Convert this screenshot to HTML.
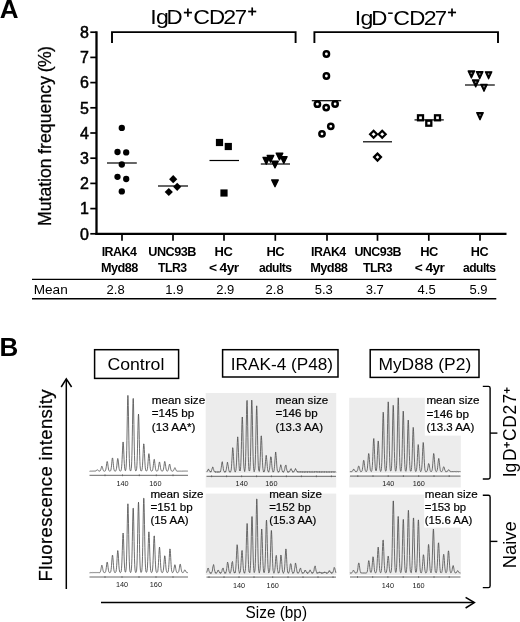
<!DOCTYPE html>
<html>
<head>
<meta charset="utf-8">
<title>Figure</title>
<style>
html, body { margin: 0; padding: 0; background: #ffffff; }
body { width: 520px; height: 622px; overflow: hidden; }
svg { display: block; will-change: transform; font-family: "Liberation Sans", sans-serif; }
text { font-family: "Liberation Sans", sans-serif; }
</style>
</head>
<body>
<svg width="520" height="622" viewBox="0 0 520 622">
<rect x="0" y="0" width="520" height="622" fill="#ffffff"/>
<text x="-0.30" y="17.60" font-size="26" font-weight="bold" text-anchor="start" fill="#000" >A</text>
<line x1="96.50" y1="31.30" x2="96.50" y2="234.90" stroke="#000" stroke-width="2.3" stroke-linecap="butt"/>
<line x1="95.40" y1="233.80" x2="506.50" y2="233.80" stroke="#000" stroke-width="2.2" stroke-linecap="butt"/>
<line x1="90.30" y1="233.80" x2="96.50" y2="233.80" stroke="#000" stroke-width="1.7" stroke-linecap="butt"/>
<text x="89.0" y="239.55" font-size="16" text-anchor="end" stroke="#000" stroke-width="0.5">0</text>
<line x1="90.30" y1="208.60" x2="96.50" y2="208.60" stroke="#000" stroke-width="1.7" stroke-linecap="butt"/>
<text x="89.0" y="214.35" font-size="16" text-anchor="end" stroke="#000" stroke-width="0.5">1</text>
<line x1="90.30" y1="183.40" x2="96.50" y2="183.40" stroke="#000" stroke-width="1.7" stroke-linecap="butt"/>
<text x="89.0" y="189.15" font-size="16" text-anchor="end" stroke="#000" stroke-width="0.5">2</text>
<line x1="90.30" y1="158.20" x2="96.50" y2="158.20" stroke="#000" stroke-width="1.7" stroke-linecap="butt"/>
<text x="89.0" y="163.95" font-size="16" text-anchor="end" stroke="#000" stroke-width="0.5">3</text>
<line x1="90.30" y1="133.00" x2="96.50" y2="133.00" stroke="#000" stroke-width="1.7" stroke-linecap="butt"/>
<text x="89.0" y="138.75" font-size="16" text-anchor="end" stroke="#000" stroke-width="0.5">4</text>
<line x1="90.30" y1="107.80" x2="96.50" y2="107.80" stroke="#000" stroke-width="1.7" stroke-linecap="butt"/>
<text x="89.0" y="113.55" font-size="16" text-anchor="end" stroke="#000" stroke-width="0.5">5</text>
<line x1="90.30" y1="82.60" x2="96.50" y2="82.60" stroke="#000" stroke-width="1.7" stroke-linecap="butt"/>
<text x="89.0" y="88.35" font-size="16" text-anchor="end" stroke="#000" stroke-width="0.5">6</text>
<line x1="90.30" y1="57.40" x2="96.50" y2="57.40" stroke="#000" stroke-width="1.7" stroke-linecap="butt"/>
<text x="89.0" y="63.15" font-size="16" text-anchor="end" stroke="#000" stroke-width="0.5">7</text>
<line x1="90.30" y1="32.20" x2="96.50" y2="32.20" stroke="#000" stroke-width="1.7" stroke-linecap="butt"/>
<text x="89.0" y="37.95" font-size="16" text-anchor="end" stroke="#000" stroke-width="0.5">8</text>
<text transform="translate(51.4 225.9) rotate(-90)" font-size="17.7" textLength="67.4" lengthAdjust="spacing" stroke="#000" stroke-width="0.25">Mutation</text>
<text transform="translate(51.4 153.9) rotate(-90)" font-size="17.7" textLength="77.9" lengthAdjust="spacing" stroke="#000" stroke-width="0.25">frequency</text>
<text transform="translate(51.4 72.2) rotate(-90)" font-size="17.7" textLength="26.2" lengthAdjust="spacing" stroke="#000" stroke-width="0.25">(%)</text>
<path d="M112.0 43 V32.1 H295.6 V43" fill="none" stroke="#000" stroke-width="1.9"/>
<path d="M314.4 43 V32.1 H498.0 V43" fill="none" stroke="#000" stroke-width="1.9"/>
<text transform="translate(150.26 23.7) scale(1.13 1)" font-size="20.5">I</text>
<text transform="translate(156.03 23.7) scale(1.13 1)" font-size="20.5">g</text>
<text transform="translate(166.57 23.7) scale(1.09 1)" font-size="20.5">D</text>
<text transform="translate(193.22 23.7) scale(1.13 1)" font-size="20.5">C</text>
<text transform="translate(208.97 23.7) scale(1.09 1)" font-size="20.5">D</text>
<text transform="translate(223.33 23.7) scale(1.13 1)" font-size="20.5">2</text>
<text transform="translate(234.76 23.7) scale(1.08 1)" font-size="20.5">7</text>
<line x1="183.85" y1="12.60" x2="191.95" y2="12.60" stroke="#000" stroke-width="1.7" stroke-linecap="butt"/>
<line x1="187.90" y1="8.55" x2="187.90" y2="16.65" stroke="#000" stroke-width="1.7" stroke-linecap="butt"/>
<line x1="248.15" y1="11.50" x2="256.25" y2="11.50" stroke="#000" stroke-width="1.7" stroke-linecap="butt"/>
<line x1="252.20" y1="7.45" x2="252.20" y2="15.55" stroke="#000" stroke-width="1.7" stroke-linecap="butt"/>
<text transform="translate(354.76 24.95) scale(1.13 1)" font-size="20.5">I</text>
<text transform="translate(360.53 24.95) scale(1.13 1)" font-size="20.5">g</text>
<text transform="translate(371.27 24.95) scale(1.09 1)" font-size="20.5">D</text>
<text transform="translate(393.22 24.95) scale(1.13 1)" font-size="20.5">C</text>
<text transform="translate(409.17 24.95) scale(1.09 1)" font-size="20.5">D</text>
<text transform="translate(423.73 24.95) scale(1.13 1)" font-size="20.5">2</text>
<text transform="translate(434.76 24.95) scale(1.08 1)" font-size="20.5">7</text>
<line x1="388.10" y1="13.20" x2="392.70" y2="13.20" stroke="#000" stroke-width="1.5" stroke-linecap="butt"/>
<line x1="447.95" y1="12.45" x2="456.05" y2="12.45" stroke="#000" stroke-width="1.7" stroke-linecap="butt"/>
<line x1="452.00" y1="8.40" x2="452.00" y2="16.50" stroke="#000" stroke-width="1.7" stroke-linecap="butt"/>
<line x1="122.00" y1="233.80" x2="122.00" y2="240.80" stroke="#000" stroke-width="1.7" stroke-linecap="butt"/>
<line x1="173.00" y1="233.80" x2="173.00" y2="240.80" stroke="#000" stroke-width="1.7" stroke-linecap="butt"/>
<line x1="224.00" y1="233.80" x2="224.00" y2="240.80" stroke="#000" stroke-width="1.7" stroke-linecap="butt"/>
<line x1="275.30" y1="233.80" x2="275.30" y2="240.80" stroke="#000" stroke-width="1.7" stroke-linecap="butt"/>
<line x1="327.00" y1="233.80" x2="327.00" y2="240.80" stroke="#000" stroke-width="1.7" stroke-linecap="butt"/>
<line x1="377.50" y1="233.80" x2="377.50" y2="240.80" stroke="#000" stroke-width="1.7" stroke-linecap="butt"/>
<line x1="428.80" y1="233.80" x2="428.80" y2="240.80" stroke="#000" stroke-width="1.7" stroke-linecap="butt"/>
<line x1="480.00" y1="233.80" x2="480.00" y2="240.80" stroke="#000" stroke-width="1.7" stroke-linecap="butt"/>
<line x1="107.00" y1="163.00" x2="136.80" y2="163.00" stroke="#000" stroke-width="1.2" stroke-linecap="butt"/>
<circle cx="121.8" cy="127.9" r="3.15"/>
<circle cx="117.5" cy="152" r="3.15"/>
<circle cx="126.2" cy="152.4" r="3.15"/>
<circle cx="121.8" cy="164.5" r="3.15"/>
<circle cx="117.5" cy="176.8" r="3.15"/>
<circle cx="126.2" cy="179" r="3.15"/>
<circle cx="121.8" cy="191.4" r="3.15"/>
<line x1="158.00" y1="186.00" x2="188.00" y2="186.00" stroke="#000" stroke-width="1.2" stroke-linecap="butt"/>
<path d="M173.2 175.1 L177.29999999999998 179.2 L173.2 183.29999999999998 L169.1 179.2 Z"/>
<path d="M177.2 182.70000000000002 L181.29999999999998 186.8 L177.2 190.9 L173.1 186.8 Z"/>
<path d="M168.8 187.9 L172.9 192 L168.8 196.1 L164.70000000000002 192 Z"/>
<line x1="209.50" y1="160.50" x2="239.00" y2="160.50" stroke="#000" stroke-width="1.2" stroke-linecap="butt"/>
<rect x="215.9" y="138.9" width="7.2" height="7.2"/>
<rect x="224.70000000000002" y="142.9" width="7.2" height="7.2"/>
<rect x="220.4" y="189.4" width="7.2" height="7.2"/>
<line x1="260.80" y1="164.00" x2="290.00" y2="164.00" stroke="#000" stroke-width="1.2" stroke-linecap="butt"/>
<path d="M267.2 155.40000000000003 L273.8 155.40000000000003 L270.5 162.2 Z" stroke="#000" stroke-width="1.3" stroke-linejoin="round"/>
<path d="M276.2 153.10000000000002 L282.8 153.10000000000002 L279.5 159.89999999999998 Z" stroke="#000" stroke-width="1.3" stroke-linejoin="round"/>
<path d="M263.0 157.40000000000003 L269.6 157.40000000000003 L266.3 164.2 Z" stroke="#000" stroke-width="1.3" stroke-linejoin="round"/>
<path d="M280.5 156.60000000000002 L287.1 156.60000000000002 L283.8 163.39999999999998 Z" stroke="#000" stroke-width="1.3" stroke-linejoin="round"/>
<path d="M271.7 161.10000000000002 L278.3 161.10000000000002 L275 167.89999999999998 Z" stroke="#000" stroke-width="1.3" stroke-linejoin="round"/>
<path d="M271.7 179.90000000000003 L278.3 179.90000000000003 L275 186.7 Z" stroke="#000" stroke-width="1.3" stroke-linejoin="round"/>
<line x1="311.80" y1="100.70" x2="341.20" y2="100.70" stroke="#000" stroke-width="1.2" stroke-linecap="butt"/>
<circle cx="326.4" cy="54" r="2.65" fill="#fff" stroke="#000" stroke-width="2.5"/>
<circle cx="326.4" cy="76" r="2.65" fill="#fff" stroke="#000" stroke-width="2.5"/>
<circle cx="317.4" cy="104.2" r="2.65" fill="#fff" stroke="#000" stroke-width="2.5"/>
<circle cx="335.1" cy="104" r="2.65" fill="#fff" stroke="#000" stroke-width="2.5"/>
<circle cx="326.2" cy="107.6" r="2.65" fill="#fff" stroke="#000" stroke-width="2.5"/>
<circle cx="330.8" cy="126.3" r="2.65" fill="#fff" stroke="#000" stroke-width="2.5"/>
<circle cx="322" cy="133.8" r="2.65" fill="#fff" stroke="#000" stroke-width="2.5"/>
<line x1="363.00" y1="141.80" x2="392.00" y2="141.80" stroke="#000" stroke-width="1.2" stroke-linecap="butt"/>
<path d="M373.6 130.7 L377.1 134.2 L373.6 137.7 L370.1 134.2 Z" fill="#fff" stroke="#000" stroke-width="2.2"/>
<path d="M382.2 130.7 L385.7 134.2 L382.2 137.7 L378.7 134.2 Z" fill="#fff" stroke="#000" stroke-width="2.2"/>
<path d="M377.5 153.6 L381.0 157.1 L377.5 160.6 L374.0 157.1 Z" fill="#fff" stroke="#000" stroke-width="2.2"/>
<line x1="414.50" y1="119.90" x2="443.80" y2="119.90" stroke="#000" stroke-width="1.2" stroke-linecap="butt"/>
<rect x="418.0" y="115.3" width="5.0" height="5.0" fill="#fff" stroke="#000" stroke-width="2.3"/>
<rect x="435.0" y="115.3" width="5.0" height="5.0" fill="#fff" stroke="#000" stroke-width="2.3"/>
<rect x="426.3" y="120.7" width="5.0" height="5.0" fill="#fff" stroke="#000" stroke-width="2.3"/>
<line x1="465.00" y1="85.00" x2="494.80" y2="85.00" stroke="#000" stroke-width="1.2" stroke-linecap="butt"/>
<path d="M468.15 71.0 L474.65 71.0 L471.4 78.0 Z" stroke="#000" stroke-width="1.3" stroke-linejoin="round"/>
<circle cx="471.4" cy="73.2" r="0.9" fill="#777"/>
<path d="M476.45 71.7 L482.95 71.7 L479.7 78.7 Z" stroke="#000" stroke-width="1.3" stroke-linejoin="round"/>
<circle cx="479.7" cy="73.9" r="0.9" fill="#777"/>
<path d="M485.35 71.8 L491.85 71.8 L488.6 78.8 Z" stroke="#000" stroke-width="1.3" stroke-linejoin="round"/>
<circle cx="488.6" cy="74.0" r="0.9" fill="#777"/>
<path d="M472.45 79.9 L478.95 79.9 L475.7 86.9 Z" stroke="#000" stroke-width="1.3" stroke-linejoin="round"/>
<circle cx="475.7" cy="82.10000000000001" r="0.9" fill="#777"/>
<path d="M480.75 84.3 L487.25 84.3 L484 91.3 Z" stroke="#000" stroke-width="1.3" stroke-linejoin="round"/>
<circle cx="484" cy="86.5" r="0.9" fill="#777"/>
<path d="M476.75 112.7 L483.25 112.7 L480 119.7 Z" stroke="#000" stroke-width="1.3" stroke-linejoin="round"/>
<circle cx="480" cy="114.9" r="0.9" fill="#777"/>
<text x="101.70" y="255.90" font-size="12.8" font-weight="bold" fill="#000" textLength="34.70" lengthAdjust="spacingAndGlyphs" letter-spacing="-0.55">IRAK4</text>
<text x="101.00" y="271.60" font-size="12.8" font-weight="bold" fill="#000" textLength="36.80" lengthAdjust="spacingAndGlyphs" letter-spacing="-0.55">Myd88</text>
<text x="148.30" y="255.90" font-size="12.8" font-weight="bold" fill="#000" textLength="47.50" lengthAdjust="spacingAndGlyphs" letter-spacing="-0.55">UNC93B</text>
<text x="158.00" y="271.60" font-size="12.8" font-weight="bold" fill="#000" textLength="28.50" lengthAdjust="spacingAndGlyphs" letter-spacing="-0.55">TLR3</text>
<text x="214.60" y="255.90" font-size="12.8" font-weight="bold" fill="#000" textLength="17.60" lengthAdjust="spacingAndGlyphs" letter-spacing="-0.55">HC</text>
<text x="208.90" y="271.60" font-size="12.8" font-weight="bold" fill="#000" textLength="29.70" lengthAdjust="spacingAndGlyphs" letter-spacing="-0.55">&lt; 4yr</text>
<text x="266.40" y="255.90" font-size="12.8" font-weight="bold" fill="#000" textLength="17.60" lengthAdjust="spacingAndGlyphs" letter-spacing="-0.55">HC</text>
<text x="259.00" y="271.60" font-size="12.8" font-weight="bold" fill="#000" textLength="32.60" lengthAdjust="spacingAndGlyphs" letter-spacing="-0.55">adults</text>
<text x="311.10" y="255.90" font-size="12.8" font-weight="bold" fill="#000" textLength="34.60" lengthAdjust="spacingAndGlyphs" letter-spacing="-0.55">IRAK4</text>
<text x="310.20" y="271.60" font-size="12.8" font-weight="bold" fill="#000" textLength="37.10" lengthAdjust="spacingAndGlyphs" letter-spacing="-0.55">Myd88</text>
<text x="354.40" y="255.90" font-size="12.8" font-weight="bold" fill="#000" textLength="46.60" lengthAdjust="spacingAndGlyphs" letter-spacing="-0.55">UNC93B</text>
<text x="362.90" y="271.60" font-size="12.8" font-weight="bold" fill="#000" textLength="29.10" lengthAdjust="spacingAndGlyphs" letter-spacing="-0.55">TLR3</text>
<text x="420.20" y="255.90" font-size="12.8" font-weight="bold" fill="#000" textLength="17.60" lengthAdjust="spacingAndGlyphs" letter-spacing="-0.55">HC</text>
<text x="414.80" y="271.60" font-size="12.8" font-weight="bold" fill="#000" textLength="29.40" lengthAdjust="spacingAndGlyphs" letter-spacing="-0.55">&lt; 4yr</text>
<text x="470.80" y="255.90" font-size="12.8" font-weight="bold" fill="#000" textLength="17.20" lengthAdjust="spacingAndGlyphs" letter-spacing="-0.55">HC</text>
<text x="463.00" y="271.60" font-size="12.8" font-weight="bold" fill="#000" textLength="32.40" lengthAdjust="spacingAndGlyphs" letter-spacing="-0.55">adults</text>
<line x1="32.00" y1="279.40" x2="496.30" y2="279.40" stroke="#000" stroke-width="1.4" stroke-linecap="butt"/>
<line x1="32.00" y1="298.80" x2="496.30" y2="298.80" stroke="#000" stroke-width="1.4" stroke-linecap="butt"/>
<text x="33.70" y="293.70" font-size="13.6" font-weight="normal" text-anchor="start" fill="#000" >Mean</text>
<text x="115.60" y="293.80" font-size="13" font-weight="normal" text-anchor="middle" fill="#000" >2.8</text>
<text x="174.40" y="293.80" font-size="13" font-weight="normal" text-anchor="middle" fill="#000" >1.9</text>
<text x="225.30" y="293.80" font-size="13" font-weight="normal" text-anchor="middle" fill="#000" >2.9</text>
<text x="274.60" y="293.80" font-size="13" font-weight="normal" text-anchor="middle" fill="#000" >2.8</text>
<text x="323.80" y="293.80" font-size="13" font-weight="normal" text-anchor="middle" fill="#000" >5.3</text>
<text x="374.80" y="293.80" font-size="13" font-weight="normal" text-anchor="middle" fill="#000" >3.7</text>
<text x="426.60" y="293.80" font-size="13" font-weight="normal" text-anchor="middle" fill="#000" >4.5</text>
<text x="478.50" y="293.80" font-size="13" font-weight="normal" text-anchor="middle" fill="#000" >5.9</text>
<text x="-0.40" y="356.40" font-size="26" font-weight="bold" text-anchor="start" fill="#000" >B</text>
<line x1="66.30" y1="589.00" x2="66.30" y2="379.40" stroke="#000" stroke-width="1.5" stroke-linecap="butt"/>
<path d="M61.2 387.0 L66.3 378.9 L71.6 387.0" fill="none" stroke="#000" stroke-width="1.5"/>
<text transform="translate(52.1 581.5) rotate(-90)" font-size="18.5" textLength="192.0" lengthAdjust="spacing" stroke="#000" stroke-width="0.25">Fluorescence intensity</text>
<line x1="101.00" y1="602.60" x2="474.00" y2="602.60" stroke="#000" stroke-width="1.5" stroke-linecap="butt"/>
<path d="M465.6 597.4 L474.4 602.6 L465.6 608" fill="none" stroke="#000" stroke-width="1.5"/>
<text x="245.60" y="618.40" font-size="15.7" font-weight="normal" fill="#000" textLength="61.40" lengthAdjust="spacingAndGlyphs" >Size (bp)</text>
<rect x="94.6" y="349.7" width="84.0" height="28.69999999999999" fill="#fff" stroke="#000" stroke-width="1.5"/>
<rect x="222.6" y="349.7" width="115.4" height="27.30000000000001" fill="#fff" stroke="#000" stroke-width="1.5"/>
<rect x="370.2" y="349.7" width="108.80000000000001" height="27.69999999999999" fill="#fff" stroke="#000" stroke-width="1.5"/>
<text x="107.40" y="369.50" font-size="17" font-weight="normal" fill="#000" textLength="57.00" lengthAdjust="spacingAndGlyphs" >Control</text>
<text x="230.80" y="369.50" font-size="17" font-weight="normal" fill="#000" textLength="102.20" lengthAdjust="spacingAndGlyphs" >IRAK-4 (P48)</text>
<text x="378.40" y="369.50" font-size="17" font-weight="normal" fill="#000" textLength="92.80" lengthAdjust="spacingAndGlyphs" >MyD88 (P2)</text>
<rect x="205.7" y="393" width="130.5" height="80.39999999999998" fill="#ececec"/>
<rect x="205.7" y="473.4" width="130.5" height="2.400000000000034" fill="#f9f9f9"/>
<rect x="205.7" y="475.8" width="130.5" height="11.699999999999989" fill="#eeeeee"/>
<rect x="205.7" y="493.6" width="130.5" height="81.29999999999995" fill="#ececec"/>
<rect x="349.2" y="397.8" width="111.60000000000002" height="75.39999999999998" fill="#ececec"/>
<rect x="349.2" y="473.2" width="111.60000000000002" height="2.400000000000034" fill="#f9f9f9"/>
<rect x="349.2" y="475.6" width="111.60000000000002" height="11.899999999999977" fill="#eeeeee"/>
<rect x="349.2" y="494.6" width="111.60000000000002" height="80.29999999999995" fill="#ececec"/>
<rect x="424.8" y="392" width="60" height="43.6" fill="#fff"/>
<rect x="424.2" y="488" width="60" height="39.6" fill="#fff"/>
<polyline points="89.5,471.14 89.7,471.29 89.9,471.20 90.1,471.02 90.3,471.09 90.5,471.23 90.7,471.20 90.9,471.13 91.1,471.16 91.3,471.13 91.5,471.07 91.7,471.18 91.9,471.28 92.1,471.15 92.3,471.00 92.5,471.12 92.7,471.27 92.9,471.19 93.1,471.09 93.3,471.13 93.5,471.15 93.7,471.12 93.9,471.19 94.1,471.25 94.3,471.10 94.5,471.01 94.7,471.17 94.9,471.29 95.1,471.14 95.3,471.01 95.5,471.06 95.7,471.06 95.9,470.93 96.1,470.83 96.3,470.68 96.5,470.35 96.7,470.11 96.9,470.10 97.1,470.03 97.3,469.81 97.5,469.77 97.7,470.03 97.9,470.29 98.1,470.43 98.3,470.63 98.5,470.81 98.7,470.87 98.9,470.96 99.1,471.18 99.3,471.21 99.5,471.02 99.7,470.96 99.9,471.07 100.1,471.00 100.3,470.66 100.5,470.29 100.7,469.83 100.9,469.15 101.1,468.40 101.3,467.72 101.5,466.97 101.7,466.31 101.9,466.15 102.1,466.53 102.3,467.02 102.5,467.56 102.7,468.34 102.9,469.20 103.1,469.84 103.3,470.33 103.5,470.74 103.7,470.91 103.9,470.90 104.1,471.04 104.3,471.26 104.5,471.21 104.7,471.01 104.9,470.99 105.1,471.03 105.3,470.83 105.5,470.45 105.7,469.93 105.9,469.06 106.1,467.84 106.3,466.52 106.5,465.09 106.7,463.46 106.9,462.07 107.1,461.48 107.3,461.64 107.5,462.27 107.7,463.39 107.9,464.94 108.1,466.51 108.3,467.88 108.5,469.11 108.7,470.02 108.9,470.44 109.1,470.64 109.3,470.96 109.5,471.20 109.7,471.14 109.9,471.03 110.1,471.05 110.3,471.00 110.5,470.79 110.7,470.50 110.9,469.94 111.1,468.87 111.3,467.45 111.5,465.85 111.7,463.88 111.9,461.57 112.1,459.54 112.3,458.31 112.5,457.91 112.7,458.34 112.9,459.67 113.1,461.61 113.3,463.67 113.5,465.73 113.7,467.66 113.9,469.06 114.1,469.81 114.3,470.33 114.5,470.83 114.7,471.08 114.9,471.08 115.1,471.08 115.3,471.10 115.5,471.00 115.7,470.88 115.9,470.78 116.1,470.33 116.3,469.42 116.5,468.32 116.7,467.02 116.9,465.20 117.1,463.00 117.3,460.98 117.5,459.45 117.7,458.55 117.9,458.56 118.1,459.53 118.3,461.08 118.5,462.91 118.7,465.01 118.9,467.06 119.1,468.54 119.3,469.44 119.5,470.16 119.7,470.71 119.9,470.95 120.1,471.04 120.3,471.13 120.5,471.07 120.7,470.88 120.9,470.77 121.1,470.53 121.3,469.70 121.5,468.21 121.7,466.19 121.9,463.38 122.1,459.49 122.3,454.85 122.5,450.13 122.7,445.90 122.9,442.92 123.1,441.96 123.3,443.13 123.5,445.93 123.7,449.98 123.9,454.83 124.1,459.55 124.3,463.36 124.5,466.21 124.7,468.30 124.9,469.61 125.1,470.30 125.3,470.68 125.5,470.70 125.7,470.14 125.9,469.02 126.1,467.22 126.3,463.98 126.5,458.53 126.7,450.72 126.9,440.74 127.1,428.99 127.3,416.66 127.5,405.77 127.7,398.22 127.9,395.39 128.1,398.05 128.3,405.79 128.5,416.80 128.7,428.93 128.9,440.64 129.1,450.82 129.3,458.58 129.5,463.85 129.7,467.21 129.9,469.20 130.1,470.17 130.3,470.66 130.5,470.98 130.7,470.96 130.9,470.47 131.1,469.70 131.3,468.48 131.5,466.03 131.7,461.76 131.9,455.46 132.1,446.90 132.3,436.18 132.5,424.33 132.7,412.98 132.9,403.79 133.1,398.51 133.3,398.51 133.5,403.81 133.7,413.00 133.9,424.31 134.1,436.13 134.3,446.91 134.5,455.52 134.7,461.77 134.9,465.98 135.1,468.46 135.3,469.72 135.5,470.49 135.7,470.99 135.9,471.03 136.1,470.72 136.3,470.36 136.5,469.72 136.7,468.24 136.9,465.64 137.1,461.65 137.3,455.84 137.5,448.18 137.7,439.36 137.9,430.26 138.1,421.94 138.3,416.06 138.5,414.08 138.7,416.29 138.9,421.96 139.1,430.08 139.3,439.36 139.5,448.27 139.7,455.79 139.9,461.65 140.1,465.76 140.3,468.19 140.5,469.52 140.7,470.43 140.9,470.97 141.1,471.04 141.3,470.93 141.5,470.88 141.7,470.67 141.9,470.12 142.1,469.22 142.3,467.70 142.5,465.23 142.7,461.91 142.9,458.05 143.1,453.72 143.3,449.27 143.5,445.70 143.7,443.87 143.9,443.96 144.1,445.83 144.3,449.27 144.5,453.60 144.7,457.97 144.9,461.95 145.1,465.34 145.3,467.76 145.5,469.14 145.7,469.99 145.9,470.66 146.1,471.01 146.3,471.03 146.5,471.00 146.7,470.93 146.9,470.65 147.1,470.19 147.3,469.55 147.5,468.33 147.7,466.36 147.9,464.00 148.1,461.45 148.3,458.67 148.5,456.01 148.7,454.21 148.9,453.65 149.1,454.27 149.3,456.02 149.5,458.63 149.7,461.44 149.9,464.02 150.1,466.36 150.3,468.33 150.5,469.57 150.7,470.17 150.9,470.60 151.1,470.96 151.3,471.09 151.5,471.10 151.7,471.14 151.9,471.06 152.1,470.83 152.3,470.67 152.5,470.44 152.7,469.72 152.9,468.51 153.1,467.15 153.3,465.58 153.5,463.67 153.7,461.74 153.9,460.28 154.1,459.45 154.3,459.38 154.5,460.28 154.7,461.89 154.9,463.64 155.1,465.38 155.3,467.18 155.5,468.74 155.7,469.70 155.9,470.25 156.1,470.68 156.3,470.94 156.5,471.02 156.7,471.13 156.9,471.22 157.1,471.08 157.3,470.89 157.5,470.90 157.7,470.82 157.9,470.31 158.1,469.53 158.3,468.67 158.5,467.53 158.7,466.08 158.9,464.62 159.1,463.34 159.3,462.33 159.5,461.93 159.7,462.42 159.9,463.43 160.1,464.59 160.3,465.94 160.5,467.48 160.7,468.79 160.9,469.65 161.1,470.26 161.3,470.69 161.5,470.86 161.7,470.97 161.9,471.17 162.1,471.24 162.3,471.05 162.5,470.93 162.7,471.00 162.9,470.90 163.1,470.46 163.3,469.86 163.5,469.07 163.7,467.91 163.9,466.49 164.1,465.03 164.3,463.51 164.5,462.12 164.7,461.42 164.9,461.61 165.1,462.34 165.3,463.39 165.5,464.86 165.7,466.53 165.9,467.95 166.1,469.07 166.3,469.97 166.5,470.49 166.7,470.68 166.9,470.89 167.1,471.17 167.3,471.17 167.5,470.93 167.7,470.79 167.9,470.69 168.1,470.31 168.3,469.65 168.5,468.85 168.7,467.81 168.9,466.58 169.1,465.55 169.3,464.83 169.5,464.28 169.7,464.09 169.9,464.62 170.1,465.66 170.3,466.75 170.5,467.78 170.7,468.81 170.9,469.65 171.1,470.20 171.3,470.66 171.5,471.01 171.7,471.04 171.9,470.95 172.1,471.08 172.3,471.26 172.5,471.19 172.7,471.03 172.9,471.02 173.1,470.99 173.3,470.81 173.5,470.61 173.7,470.32 173.9,469.76 174.1,469.12 174.3,468.71 174.5,468.36 174.7,467.90 174.9,467.63 175.1,467.83 175.3,468.27 175.5,468.72 175.7,469.26 175.9,469.82 176.1,470.19 176.3,470.48 176.5,470.87 176.7,471.11 176.9,471.04 177.1,470.97 177.3,471.13 177.5,471.24 177.7,471.17 177.9,471.12 178.1,471.15 178.3,471.11 178.5,471.10 178.7,471.23 178.9,471.26 179.1,471.08 179.3,471.01 179.5,471.19 179.7,471.27 179.9,471.14 180.1,471.08 180.3,471.15 180.5,471.15 180.7,471.13 180.9,471.22 181.1,471.21 181.3,471.05 181.5,471.05 181.7,471.24 181.9,471.27 182.1,471.10 182.3,471.05 182.5,471.17 182.7,471.19 182.9,471.15 183.1,471.19 183.3,471.17 183.5,471.05 183.7,471.09 183.9,471.27 184.1,471.24 184.3,471.05 184.5,471.05 184.7,471.21 184.9,471.22 185.1,471.14 185.3,471.15 185.5,471.15 185.7,471.08 185.9,471.14 186.1,471.28 186.3,471.20 186.5,471.01 186.7,471.07 186.9,471.25 187.1,471.23 187.3,471.10 187.5,471.11 187.7,471.15 187.9,471.12" fill="none" stroke="#4a4a4a" stroke-width="0.8" stroke-linejoin="round"/>
<line x1="89.50" y1="475.30" x2="188.00" y2="475.30" stroke="#555" stroke-width="0.9" stroke-linecap="butt"/>
<line x1="105.00" y1="474.40" x2="105.00" y2="476.20" stroke="#555" stroke-width="0.8" stroke-linecap="butt"/>
<line x1="122.50" y1="474.40" x2="122.50" y2="476.20" stroke="#555" stroke-width="0.8" stroke-linecap="butt"/>
<line x1="139.30" y1="474.40" x2="139.30" y2="476.20" stroke="#555" stroke-width="0.8" stroke-linecap="butt"/>
<line x1="156.30" y1="474.40" x2="156.30" y2="476.20" stroke="#555" stroke-width="0.8" stroke-linecap="butt"/>
<line x1="173.00" y1="474.40" x2="173.00" y2="476.20" stroke="#555" stroke-width="0.8" stroke-linecap="butt"/>
<text x="122.50" y="485.90" font-size="7.3" font-weight="normal" text-anchor="middle" fill="#1a1a1a" >140</text>
<text x="155.40" y="485.90" font-size="7.3" font-weight="normal" text-anchor="middle" fill="#1a1a1a" >160</text>
<polyline points="206.5,471.71 206.7,472.02 206.9,471.78 207.1,471.55 207.3,471.42 207.5,470.80 207.7,470.18 207.9,470.29 208.1,470.32 208.3,469.51 208.5,468.93 208.7,469.46 208.9,470.15 209.1,470.25 209.3,470.45 209.5,470.96 209.7,471.16 209.9,471.32 210.1,471.93 210.3,472.21 210.5,471.62 210.7,471.27 210.9,471.79 211.1,471.96 211.3,471.18 211.5,470.42 211.7,470.03 211.9,469.32 212.1,468.50 212.3,468.12 212.5,467.67 212.7,466.92 212.9,467.00 213.1,468.17 213.3,469.05 213.5,469.18 213.7,469.68 213.9,470.72 214.1,471.31 214.3,471.50 214.5,471.84 214.7,471.92 214.9,471.55 215.1,471.67 215.3,472.35 215.5,472.34 215.7,471.62 215.9,471.54 216.1,472.12 216.3,472.22 216.5,471.91 216.7,471.93 216.9,471.95 217.1,471.69 217.3,471.87 217.5,472.39 217.7,472.17 217.9,471.48 218.1,471.62 218.3,472.30 218.5,472.26 218.7,471.79 218.9,471.80 219.1,471.96 219.3,471.84 219.5,471.97 219.7,472.28 219.9,471.91 220.1,471.26 220.3,471.42 220.5,471.74 220.7,470.93 220.9,469.50 221.1,468.46 221.3,467.34 221.5,465.66 221.7,464.12 221.9,463.05 222.1,462.05 222.3,461.69 222.5,462.86 222.7,464.62 222.9,465.72 223.1,466.75 223.3,468.51 223.5,470.11 223.7,470.79 223.9,471.20 224.1,471.65 224.3,471.64 224.5,471.57 224.7,472.08 224.9,472.41 225.1,471.80 225.3,471.29 225.5,471.69 225.7,471.89 225.9,471.14 226.1,470.21 226.3,469.42 226.5,468.15 226.7,466.63 226.9,465.49 227.1,464.27 227.3,462.73 227.5,462.15 227.7,463.15 227.9,464.41 228.1,465.22 228.3,466.43 228.5,468.19 228.7,469.53 228.9,470.37 229.1,471.23 229.3,471.65 229.5,471.38 229.7,471.47 229.9,472.22 230.1,472.37 230.3,471.65 230.5,471.33 230.7,471.59 230.9,471.28 231.1,470.23 231.3,468.91 231.5,466.84 231.7,463.67 231.9,460.26 232.1,456.97 232.3,453.10 232.5,449.36 232.7,447.67 232.9,448.31 233.1,450.07 233.3,452.69 233.5,456.45 233.7,460.44 233.9,463.79 234.1,466.77 234.3,469.27 234.5,470.38 234.7,470.56 234.9,471.21 235.1,472.10 235.3,472.01 235.5,471.27 235.7,470.83 235.9,470.20 236.1,468.57 236.3,466.20 236.5,462.93 236.7,458.01 236.9,452.12 237.1,446.87 237.3,442.49 237.5,438.70 237.7,436.85 237.9,438.27 238.1,442.16 238.3,447.06 238.5,452.62 238.7,458.16 238.9,462.52 239.1,465.77 239.3,468.66 239.5,470.64 239.7,470.97 239.9,470.73 240.1,470.98 240.3,470.81 240.5,469.20 240.7,466.52 240.9,462.76 241.1,457.08 241.3,449.65 241.5,441.48 241.7,432.80 241.9,424.27 242.1,418.38 242.3,416.99 242.5,419.40 242.7,424.48 242.9,432.09 243.1,441.24 243.3,449.88 243.5,457.10 243.7,462.96 243.9,466.91 244.1,468.78 244.3,469.98 244.5,471.28 244.7,471.60 244.9,470.46 245.1,468.85 245.3,466.79 245.5,462.89 245.7,456.59 245.9,448.25 246.1,437.75 246.3,425.67 246.5,414.43 246.7,406.09 246.9,401.14 247.1,400.42 247.3,405.28 247.5,414.86 247.7,426.28 247.9,437.61 248.1,448.10 248.3,456.59 248.5,462.49 248.7,466.68 248.9,469.67 249.1,470.85 249.3,470.70 249.5,470.76 249.7,470.88 249.9,469.59 250.1,466.63 250.3,462.51 250.5,456.51 250.7,447.90 250.9,437.45 251.1,426.08 251.3,414.50 251.5,404.86 251.7,400.08 251.9,400.77 252.1,405.65 252.3,414.10 252.5,425.49 252.7,437.55 252.9,448.05 253.1,456.53 253.3,462.90 253.5,466.73 253.7,468.81 253.9,470.57 254.1,471.77 254.3,471.52 254.5,470.60 254.7,470.00 254.9,468.80 255.1,465.75 255.3,460.95 255.5,454.40 255.7,445.52 255.9,435.07 256.1,424.85 256.3,415.77 256.5,408.67 256.7,405.81 256.9,408.62 257.1,415.69 257.3,424.85 257.5,435.19 257.7,445.58 257.9,454.28 258.1,460.84 258.3,465.80 258.5,468.89 258.7,469.97 258.9,470.45 259.1,471.27 259.3,471.38 259.5,470.02 259.7,468.07 259.9,465.81 260.1,462.26 260.3,457.32 260.5,451.82 260.7,445.95 260.9,440.20 261.1,436.46 261.3,435.83 261.5,437.35 261.7,440.33 261.9,445.31 262.1,451.69 262.3,457.58 262.5,462.19 262.7,465.91 262.9,468.50 263.1,469.78 263.3,470.78 263.5,471.88 263.7,472.09 263.9,471.40 264.1,471.19 264.3,471.54 264.5,471.13 264.7,469.80 264.9,468.35 265.1,466.55 265.3,464.00 265.5,461.47 265.7,459.36 265.9,457.14 266.1,455.34 266.3,455.46 266.5,457.31 266.7,459.33 266.9,461.32 267.1,463.94 267.3,466.59 267.5,468.45 267.7,469.88 267.9,471.07 268.1,471.37 268.3,471.15 268.5,471.58 268.7,472.21 268.9,471.79 269.1,470.75 269.3,470.17 269.5,469.50 269.7,467.85 269.9,465.65 270.1,463.33 270.3,460.57 270.5,458.00 270.7,456.84 270.9,456.78 271.1,456.91 271.3,457.87 271.5,460.46 271.7,463.54 271.9,465.81 272.1,467.62 272.3,469.32 272.5,470.35 272.7,470.90 272.9,471.68 273.1,472.17 273.3,471.67 273.5,471.13 273.7,471.41 273.9,471.41 274.1,470.17 274.3,468.42 274.5,466.64 274.7,464.14 274.9,461.00 275.1,458.09 275.3,455.40 275.5,452.91 275.7,451.97 275.9,453.32 276.1,455.63 276.3,457.87 276.5,460.67 276.7,464.09 276.9,466.88 277.1,468.70 277.3,470.17 277.5,471.07 277.7,471.16 277.9,471.38 278.1,472.16 278.3,472.35 278.5,471.65 278.7,471.36 278.9,471.79 279.1,471.77 279.3,471.08 279.5,470.46 279.7,469.72 279.9,468.48 280.1,467.45 280.3,466.92 280.5,466.01 280.7,464.82 280.9,464.79 281.1,465.96 281.3,466.92 281.5,467.49 281.7,468.52 281.9,469.70 282.1,470.41 282.3,471.06 282.5,471.80 282.7,471.83 282.9,471.36 283.1,471.60 283.3,472.33 283.5,472.21 283.7,471.49 283.9,471.32 284.1,471.39 284.3,470.87 284.5,470.14 284.7,469.43 284.9,468.15 285.1,466.62 285.3,465.98 285.5,465.92 285.7,465.37 285.9,464.95 286.1,465.82 286.3,467.30 286.5,468.32 286.7,469.18 286.9,470.18 287.1,470.74 287.3,470.98 287.5,471.67 287.7,472.28 287.9,471.90 288.1,471.37 288.3,471.79 288.5,472.35 288.7,472.09 288.9,471.71 289.1,471.78 289.3,471.70 289.5,471.41 289.7,471.47 289.9,471.35 290.1,470.37 290.3,469.50 290.5,469.60 290.7,469.70 290.9,469.04 291.1,468.63 291.3,469.10 291.5,469.65 291.7,470.01 291.9,470.66 292.1,471.18 292.3,471.06 292.5,471.14 292.7,471.96 292.9,472.36 293.1,471.78 293.3,471.45 293.5,471.88 293.7,472.08 293.9,471.76 294.1,471.59 294.3,471.38 294.5,470.70 294.7,470.26 294.9,470.38 295.1,469.98 295.3,468.90 295.5,468.50 295.7,469.13 295.9,469.55 296.1,469.53 296.3,469.91 296.5,470.52 296.7,470.80 296.9,471.22 297.1,471.93 297.3,471.99 297.5,471.42 297.7,471.51 297.9,472.26 298.1,472.33 298.3,471.77 298.5,471.70 298.7,471.98 298.9,471.94 299.1,471.95 299.3,472.23 299.5,472.03 299.7,471.49 299.9,471.73 300.1,472.42 300.3,472.27 300.5,471.60 300.7,471.65 300.9,472.11 301.1,472.08 301.3,471.95 301.5,472.08 301.7,471.91 301.9,471.57 302.1,471.92 302.3,472.47 302.5,472.11 302.7,471.46 302.9,471.71 303.1,472.27 303.3,472.14 303.5,471.85 303.7,471.94 303.9,471.89 304.1,471.71 304.3,472.05 304.5,472.41 304.7,471.92 304.9,471.40 305.1,471.86 305.3,472.42 305.5,472.10 305.7,471.69 305.9,471.85 306.1,471.97 306.3,471.87 306.5,472.10 306.7,472.27 306.9,471.77 307.1,471.45 307.3,472.06 307.5,472.49 307.7,471.96 307.9,471.54 308.1,471.87 308.3,472.12 308.5,471.97 308.7,472.03 308.9,472.10 309.1,471.70 309.3,471.59 309.5,472.22 309.7,472.45 309.9,471.78 310.1,471.46 310.3,471.99 310.5,472.27 310.7,471.97 310.9,471.90 311.1,471.98 311.3,471.75 311.5,471.76 311.7,472.30 311.9,472.31 312.1,471.61 312.3,471.49 312.5,472.17 312.7,472.35 312.9,471.87 313.1,471.75 313.3,471.95 313.5,471.87 313.7,471.90 313.9,472.27 314.1,472.13 314.3,471.51 314.5,471.62 314.7,472.34 314.9,472.34 315.1,471.71 315.3,471.65 315.5,472.03 315.7,472.02 315.9,471.96 316.1,472.15 316.3,471.98 316.5,471.53 316.7,471.80 316.9,472.45 317.1,472.22 317.3,471.54 317.5,471.65 317.7,472.18 317.9,472.13 318.1,471.91 318.3,472.00 318.5,471.90 318.7,471.63 318.9,471.97 319.1,472.45 319.3,472.04 319.5,471.42 319.7,471.75 319.9,472.35 320.1,472.15 320.3,471.77 320.5,471.88 320.7,471.92 320.9,471.79 321.1,472.07 321.3,472.35 321.5,471.86 321.7,471.41 321.9,471.93 322.1,472.46 322.3,472.07 322.5,471.61 322.7,471.84 322.9,472.04 323.1,471.93 323.3,472.07 323.5,472.19 323.7,471.74 323.9,471.50 324.1,472.11 324.3,472.49 324.5,471.90 324.7,471.49 324.9,471.90 325.1,472.20 325.3,471.99 325.5,471.97 325.7,472.04 325.9,471.73 326.1,471.66 326.3,472.25 326.5,472.41 326.7,471.72 326.9,471.45 327.1,472.05 327.3,472.33 327.5,471.95 327.7,471.82 327.9,471.95 328.1,471.81 328.3,471.83 328.5,472.28 328.7,472.25 328.9,471.57 329.1,471.52 329.3,472.24 329.5,472.38 329.7,471.82 329.9,471.68 330.1,471.97 330.3,471.95 330.5,471.94 330.7,472.21 330.9,472.07 331.1,471.52 331.3,471.68 331.5,472.39 331.7,472.32 331.9,471.64 332.1,471.62 332.3,472.08 332.5,472.10 332.7,471.95 332.9,472.07 333.1,471.94 333.3,471.58 333.5,471.86 333.7,472.45 333.9,472.17 334.1,471.48 334.3,471.66 334.5,472.25 334.7,472.17 334.9,471.85 335.1,471.93 335.3,471.91 335.5,471.71 335.7,472.01 335.9,472.41" fill="none" stroke="#4a4a4a" stroke-width="0.8" stroke-linejoin="round"/>
<line x1="206.50" y1="476.30" x2="336.00" y2="476.30" stroke="#555" stroke-width="0.9" stroke-linecap="butt"/>
<line x1="211.60" y1="475.40" x2="211.60" y2="477.20" stroke="#555" stroke-width="0.8" stroke-linecap="butt"/>
<line x1="226.60" y1="475.40" x2="226.60" y2="477.20" stroke="#555" stroke-width="0.8" stroke-linecap="butt"/>
<line x1="241.60" y1="475.40" x2="241.60" y2="477.20" stroke="#555" stroke-width="0.8" stroke-linecap="butt"/>
<line x1="256.60" y1="475.40" x2="256.60" y2="477.20" stroke="#555" stroke-width="0.8" stroke-linecap="butt"/>
<line x1="271.40" y1="475.40" x2="271.40" y2="477.20" stroke="#555" stroke-width="0.8" stroke-linecap="butt"/>
<line x1="286.40" y1="475.40" x2="286.40" y2="477.20" stroke="#555" stroke-width="0.8" stroke-linecap="butt"/>
<line x1="301.40" y1="475.40" x2="301.40" y2="477.20" stroke="#555" stroke-width="0.8" stroke-linecap="butt"/>
<line x1="316.40" y1="475.40" x2="316.40" y2="477.20" stroke="#555" stroke-width="0.8" stroke-linecap="butt"/>
<line x1="331.40" y1="475.40" x2="331.40" y2="477.20" stroke="#555" stroke-width="0.8" stroke-linecap="butt"/>
<text x="241.70" y="486.10" font-size="7.3" font-weight="normal" text-anchor="middle" fill="#1a1a1a" >140</text>
<text x="271.40" y="486.10" font-size="7.3" font-weight="normal" text-anchor="middle" fill="#1a1a1a" >160</text>
<polyline points="350.0,471.60 350.2,471.56 350.4,471.85 350.6,471.94 350.8,471.57 351.0,471.42 351.2,471.75 351.4,471.91 351.6,471.66 351.8,471.52 352.0,471.53 352.2,471.35 352.4,471.15 352.6,471.09 352.8,470.73 353.0,469.98 353.2,469.56 353.4,469.62 353.6,469.49 353.8,469.13 354.0,469.17 354.2,469.63 354.4,470.01 354.6,470.38 354.8,470.88 355.0,471.14 355.2,471.09 355.4,471.33 355.6,471.82 355.8,471.84 356.0,471.49 356.2,471.48 356.4,471.74 356.6,471.71 356.8,471.49 357.0,471.36 357.2,471.02 357.4,470.38 357.6,469.88 357.8,469.39 358.0,468.33 358.2,467.05 358.4,466.38 358.6,466.24 358.8,466.10 359.0,466.19 359.2,466.86 359.4,467.74 359.6,468.57 359.8,469.57 360.0,470.50 360.2,470.83 360.4,470.90 360.6,471.34 360.8,471.82 361.0,471.74 361.2,471.48 361.4,471.52 361.6,471.54 361.8,471.28 362.0,471.00 362.2,470.50 362.4,469.36 362.6,467.88 362.8,466.57 363.0,465.02 363.2,462.95 363.4,461.15 363.6,460.36 363.8,460.34 364.0,460.85 364.2,462.11 364.4,463.87 364.6,465.55 364.8,467.19 365.0,468.94 365.2,470.21 365.4,470.61 365.6,470.87 365.8,471.41 366.0,471.75 366.2,471.62 366.4,471.49 366.6,471.40 366.8,471.00 367.0,470.40 367.2,469.70 367.4,468.30 367.6,465.91 367.8,463.25 368.0,460.73 368.2,458.00 368.4,455.31 368.6,453.67 368.8,453.48 369.0,454.43 369.2,456.43 369.4,459.31 369.6,462.21 369.8,464.64 370.0,466.95 370.2,469.07 370.4,470.32 370.6,470.71 370.8,471.06 371.0,471.49 371.2,471.58 371.4,471.42 371.6,471.22 371.8,470.59 372.0,469.31 372.2,467.66 372.4,465.37 372.6,461.62 372.8,456.58 373.0,451.34 373.2,446.41 373.4,442.01 373.6,439.08 373.8,438.52 374.0,440.24 374.2,443.78 374.4,448.85 374.6,454.46 374.8,459.30 375.0,463.13 375.2,466.42 375.4,468.93 375.6,470.20 375.8,470.65 376.0,470.92 376.2,470.81 376.4,470.10 376.6,468.98 376.8,467.15 377.0,464.01 377.2,459.87 377.4,455.47 377.6,450.86 377.8,446.11 378.0,442.42 378.2,440.93 378.4,441.63 378.6,444.13 378.8,448.24 379.0,453.17 379.2,457.83 379.4,461.97 379.6,465.67 379.8,468.36 380.0,469.68 380.2,470.37 380.4,471.10 380.6,471.51 380.8,471.36 381.0,470.98 381.2,470.30 381.4,468.77 381.6,466.25 381.8,462.65 382.0,457.12 382.2,449.27 382.4,440.11 382.6,430.86 382.8,422.23 383.0,415.44 383.2,412.23 383.4,413.37 383.6,418.29 383.8,426.16 384.0,435.76 384.2,445.20 384.4,453.16 384.6,459.67 384.8,464.80 385.0,468.04 385.2,469.60 385.4,470.49 385.6,471.13 385.8,471.21 386.0,470.84 386.2,470.12 386.4,468.43 386.6,465.27 386.8,460.73 387.0,454.46 387.2,445.66 387.4,434.72 387.6,423.40 387.8,413.30 388.0,405.59 388.2,401.85 388.4,403.12 388.6,408.93 388.8,418.03 389.0,429.17 389.2,440.57 389.4,450.24 389.6,457.61 389.8,463.24 390.0,467.25 390.2,469.45 390.4,470.44 390.6,471.01 390.8,471.16 391.0,470.77 391.2,470.09 391.4,468.75 391.6,465.83 391.8,461.15 392.0,455.00 392.2,446.99 392.4,436.85 392.6,425.88 392.8,416.06 393.0,408.83 393.2,405.33 393.4,406.56 393.6,412.22 393.8,420.84 394.0,431.10 394.2,441.87 394.4,451.47 394.6,458.61 394.8,463.61 395.0,467.23 395.2,469.53 395.4,470.59 395.6,471.08 395.8,471.21 396.0,470.71 396.2,469.70 396.4,468.24 396.6,465.40 396.8,460.25 397.0,452.96 397.2,443.89 397.4,432.96 397.6,420.92 397.8,409.83 398.0,401.71 398.2,397.80 398.4,399.05 398.6,405.47 398.8,415.37 399.0,426.69 399.2,438.24 399.4,448.92 399.6,457.31 399.8,462.95 400.0,466.69 400.2,469.15 400.4,470.44 400.6,471.00 400.8,471.31 401.0,471.07 401.2,470.03 401.4,468.56 401.6,466.46 401.8,462.58 402.0,456.46 402.2,448.69 402.4,439.76 402.6,430.05 402.8,420.96 403.0,414.31 403.2,411.13 403.4,411.96 403.6,417.09 403.8,425.50 404.0,435.06 404.2,444.28 404.4,452.73 404.6,459.78 404.8,464.66 405.0,467.68 405.2,469.61 405.4,470.66 405.6,471.01 405.8,471.22 406.0,471.29 406.2,470.55 406.4,468.95 406.6,466.90 406.8,463.87 407.0,458.90 407.2,452.09 407.4,444.26 407.6,435.99 407.8,428.21 408.0,422.53 408.2,420.02 408.4,420.74 408.6,424.78 408.8,431.88 409.0,440.43 409.2,448.51 409.4,455.46 409.6,461.30 409.8,465.62 410.0,468.30 410.2,469.95 410.4,470.93 410.6,471.17 410.8,471.08 411.0,471.17 411.2,470.91 411.4,469.61 411.6,467.48 411.8,464.75 412.0,460.76 412.2,455.06 412.4,448.27 412.6,441.17 412.8,434.45 413.0,429.44 413.2,427.40 413.4,428.35 413.6,431.73 413.8,437.40 414.0,444.71 414.2,451.98 414.4,458.01 414.6,462.79 414.8,466.43 415.0,468.74 415.2,470.10 415.4,471.08 415.6,471.51 415.8,471.28 416.0,471.08 416.2,471.14 416.4,470.67 416.6,469.27 416.8,467.35 417.0,464.96 417.2,461.61 417.4,457.48 417.6,453.26 417.8,449.24 418.0,445.97 418.2,444.57 418.4,445.42 418.6,447.73 418.8,450.94 419.0,455.10 419.2,459.64 419.4,463.49 419.6,466.36 419.8,468.54 420.0,469.94 420.2,470.61 420.4,471.14 420.6,471.68 420.8,471.65 421.0,471.13 421.2,470.78 421.4,470.45 421.6,469.29 421.8,467.18 422.0,464.42 422.2,460.81 422.4,456.34 422.6,451.77 422.8,447.70 423.0,444.34 423.2,442.49 423.4,443.13 423.6,445.92 423.8,449.70 424.0,453.98 424.2,458.59 424.4,462.78 424.6,465.94 424.8,468.30 425.0,469.96 425.2,470.70 425.4,470.96 425.6,471.44 425.8,471.90 426.0,471.76 426.2,471.44 426.4,471.52 426.6,471.67 426.8,471.47 427.0,471.16 427.2,470.80 427.4,470.00 427.6,468.94 427.8,468.05 428.0,466.99 428.2,465.40 428.4,464.02 428.6,463.55 428.8,463.66 429.0,463.96 429.2,464.75 429.4,466.04 429.6,467.30 429.8,468.48 430.0,469.75 430.2,470.66 430.4,470.87 430.6,471.01 430.8,471.53 431.0,471.85 431.2,471.63 431.4,471.40 431.6,471.37 431.8,471.08 432.0,470.46 432.2,469.66 432.4,468.24 432.6,465.91 432.8,463.27 433.0,460.76 433.2,458.03 433.4,455.27 433.6,453.60 433.8,453.49 434.0,454.52 434.2,456.46 434.4,459.23 434.6,462.16 434.8,464.67 435.0,467.00 435.2,469.09 435.4,470.31 435.6,470.66 435.8,471.02 436.0,471.56 436.2,471.73 436.4,471.55 436.6,471.45 436.8,471.25 437.0,470.69 437.2,470.07 437.4,469.31 437.6,467.75 437.8,465.52 438.0,463.46 438.2,461.75 438.4,460.00 438.6,458.63 438.8,458.39 439.0,459.17 439.2,460.58 439.4,462.61 439.6,464.92 439.8,466.77 440.0,468.12 440.2,469.54 440.4,470.78 440.6,471.22 440.8,471.21 441.0,471.42 441.2,471.68 441.4,471.66 441.6,471.63 441.8,471.65 442.0,471.34 442.2,470.87 442.4,470.70 442.6,470.45 442.8,469.53 443.0,468.41 443.2,467.77 443.4,467.36 443.6,466.87 443.8,466.69 444.0,467.01 444.2,467.46 444.4,468.10 444.6,469.14 444.8,470.10 445.0,470.43 445.2,470.63 445.4,471.22 445.6,471.69 445.8,471.64 446.0,471.54 446.2,471.65 446.4,471.65 446.6,471.58 446.8,471.74 447.0,471.77 447.2,471.34 447.4,471.02 447.6,471.15 447.8,471.08 448.0,470.49 448.2,469.98 448.4,469.88 448.6,469.78 448.8,469.69 449.0,469.90 449.2,470.14 449.4,470.16 449.6,470.44 449.8,471.11 450.0,471.47 450.2,471.29 450.4,471.28 450.6,471.63 450.8,471.78 451.0,471.68 451.2,471.71 451.4,471.73 451.6,471.54 451.8,471.58 452.0,471.92 452.2,471.90 452.4,471.51 452.6,471.47 452.8,471.82 453.0,471.88 453.2,471.67 453.4,471.64 453.6,471.70 453.8,471.61 454.0,471.67 454.2,471.91 454.4,471.80 454.6,471.44 454.8,471.53 455.0,471.91 455.2,471.89 455.4,471.58 455.6,471.58 455.8,471.73 456.0,471.69 456.2,471.72 456.4,471.86 456.6,471.71 456.8,471.44 457.0,471.62 457.2,471.98 457.4,471.84 457.6,471.49 457.8,471.56 458.0,471.80 458.2,471.76 458.4,471.70 458.6,471.78 458.8,471.65 459.0,471.49 459.2,471.72 459.4,471.99 459.6,471.74 459.8,471.42 460.0,471.61 460.2,471.89 460.4,471.78" fill="none" stroke="#4a4a4a" stroke-width="0.8" stroke-linejoin="round"/>
<line x1="350.00" y1="476.10" x2="460.50" y2="476.10" stroke="#555" stroke-width="0.9" stroke-linecap="butt"/>
<line x1="357.80" y1="475.20" x2="357.80" y2="477.00" stroke="#555" stroke-width="0.8" stroke-linecap="butt"/>
<line x1="373.00" y1="475.20" x2="373.00" y2="477.00" stroke="#555" stroke-width="0.8" stroke-linecap="butt"/>
<line x1="388.20" y1="475.20" x2="388.20" y2="477.00" stroke="#555" stroke-width="0.8" stroke-linecap="butt"/>
<line x1="403.40" y1="475.20" x2="403.40" y2="477.00" stroke="#555" stroke-width="0.8" stroke-linecap="butt"/>
<line x1="418.70" y1="475.20" x2="418.70" y2="477.00" stroke="#555" stroke-width="0.8" stroke-linecap="butt"/>
<line x1="434.00" y1="475.20" x2="434.00" y2="477.00" stroke="#555" stroke-width="0.8" stroke-linecap="butt"/>
<line x1="449.20" y1="475.20" x2="449.20" y2="477.00" stroke="#555" stroke-width="0.8" stroke-linecap="butt"/>
<text x="388.30" y="485.90" font-size="7.3" font-weight="normal" text-anchor="middle" fill="#1a1a1a" >140</text>
<text x="418.80" y="485.90" font-size="7.3" font-weight="normal" text-anchor="middle" fill="#1a1a1a" >160</text>
<polyline points="89.5,572.64 89.7,572.79 89.9,572.70 90.1,572.52 90.3,572.59 90.5,572.73 90.7,572.70 90.9,572.63 91.1,572.66 91.3,572.63 91.5,572.57 91.7,572.68 91.9,572.78 92.1,572.65 92.3,572.50 92.5,572.62 92.7,572.77 92.9,572.69 93.1,572.59 93.3,572.63 93.5,572.65 93.7,572.62 93.9,572.69 94.1,572.75 94.3,572.60 94.5,572.51 94.7,572.67 94.9,572.79 95.1,572.66 95.3,572.55 95.5,572.63 95.7,572.68 95.9,572.65 96.1,572.68 96.3,572.70 96.5,572.58 96.7,572.54 96.9,572.72 97.1,572.79 97.3,572.61 97.5,572.52 97.7,572.66 97.9,572.73 98.1,572.66 98.3,572.65 98.5,572.66 98.7,572.59 98.9,572.59 99.1,572.74 99.3,572.74 99.5,572.52 99.7,572.44 99.9,572.51 100.1,572.37 100.3,571.92 100.5,571.37 100.7,570.66 100.9,569.65 101.1,568.51 101.3,567.42 101.5,566.31 101.7,565.40 101.9,565.15 102.1,565.62 102.3,566.36 102.5,567.26 102.7,568.45 102.9,569.70 103.1,570.67 103.3,571.42 103.5,572.00 103.7,572.28 103.9,572.34 104.1,572.51 104.3,572.74 104.5,572.70 104.7,572.50 104.9,572.48 105.1,572.51 105.3,572.30 105.5,571.89 105.7,571.32 105.9,570.37 106.1,569.04 106.3,567.59 106.5,566.01 106.7,564.24 106.9,562.75 107.1,562.09 107.3,562.25 107.5,562.94 107.7,564.17 107.9,565.86 108.1,567.58 108.3,569.08 108.5,570.42 108.7,571.41 108.9,571.87 109.1,572.11 109.3,572.45 109.5,572.70 109.7,572.64 109.9,572.52 110.1,572.53 110.3,572.45 110.5,572.18 110.7,571.77 110.9,571.03 111.1,569.65 111.3,567.80 111.5,565.63 111.7,562.99 111.9,559.97 112.1,557.32 112.3,555.67 112.5,555.11 112.7,555.69 112.9,557.46 113.1,560.01 113.3,562.77 113.5,565.50 113.7,568.00 113.9,569.84 114.1,570.89 114.3,571.60 114.5,572.22 114.7,572.53 114.9,572.55 115.1,572.56 115.3,572.57 115.5,572.42 115.7,572.21 115.9,571.92 116.1,571.15 116.3,569.70 116.5,567.79 116.7,565.37 116.9,562.17 117.1,558.43 117.3,554.92 117.5,552.20 117.7,550.64 117.9,550.65 118.1,552.28 118.3,555.02 118.5,558.34 118.7,561.97 118.9,565.41 119.1,568.01 119.3,569.73 119.5,570.98 119.7,571.86 119.9,572.28 120.1,572.46 120.3,572.59 120.5,572.54 120.7,572.32 120.9,572.14 121.1,571.76 121.3,570.66 121.5,568.70 121.7,565.96 121.9,562.09 122.1,556.81 122.3,550.56 122.5,544.15 122.7,538.42 122.9,534.39 123.1,533.06 123.3,534.60 123.5,538.45 123.7,544.00 123.9,550.53 124.1,556.88 124.3,562.07 124.5,565.98 124.7,568.79 124.9,570.58 125.1,571.54 125.3,572.06 125.5,572.19 125.7,571.70 125.9,570.69 126.1,569.07 126.3,566.15 126.5,561.18 126.7,554.07 126.9,545.01 127.1,534.33 127.3,523.13 127.5,513.23 127.7,506.37 127.9,503.79 128.1,506.21 128.3,513.26 128.5,523.27 128.7,534.27 128.9,544.91 129.1,554.17 129.3,561.24 129.5,566.02 129.7,569.07 129.9,570.88 130.1,571.75 130.3,572.20 130.5,572.51 130.7,572.50 130.9,572.04 131.1,571.35 131.3,570.29 131.5,568.12 131.7,564.33 131.9,558.73 132.1,551.15 132.3,541.64 132.5,531.14 132.7,521.08 132.9,512.94 133.1,508.23 133.3,508.23 133.5,512.96 133.7,521.11 133.9,531.11 134.1,541.59 134.3,551.16 134.5,558.79 134.7,564.33 134.9,568.08 135.1,570.27 135.3,571.37 135.5,572.05 135.7,572.51 135.9,572.51 136.1,572.16 136.3,571.70 136.5,570.87 136.7,569.04 136.9,565.85 137.1,560.91 137.3,553.74 137.5,544.31 137.7,533.39 137.9,522.11 138.1,511.87 138.3,504.64 138.5,502.18 138.7,504.87 138.9,511.88 139.1,521.94 139.3,533.39 139.5,544.39 139.7,553.69 139.9,560.91 140.1,565.97 140.3,568.99 140.5,570.67 140.7,571.76 140.9,572.38 141.1,572.45 141.3,572.27 141.5,572.00 141.7,571.32 141.9,569.85 142.1,567.32 142.3,563.10 142.5,556.56 142.7,547.64 142.9,536.83 143.1,524.79 143.3,512.89 143.5,503.35 143.7,498.21 143.9,498.29 144.1,503.49 144.3,512.89 144.5,524.67 144.7,536.75 144.9,547.68 145.1,556.67 145.3,563.16 145.5,567.24 145.7,569.73 145.9,571.31 146.1,572.12 146.3,572.33 146.5,572.31 146.7,572.13 146.9,571.54 147.1,570.48 147.3,568.79 147.5,565.93 147.7,561.61 147.9,556.15 148.1,549.96 148.3,543.40 148.5,537.38 148.7,533.25 148.9,531.85 149.1,533.31 149.3,537.38 149.5,543.36 149.7,549.96 149.9,556.17 150.1,561.60 150.3,565.94 150.5,568.82 150.7,570.47 150.9,571.50 151.1,572.18 151.3,572.45 151.5,572.52 151.7,572.54 151.9,572.35 152.1,571.88 152.3,571.24 152.5,570.14 152.7,567.99 152.9,564.63 153.1,560.30 153.3,555.06 153.5,549.06 153.7,543.18 153.9,538.57 154.1,535.98 154.3,535.91 154.5,538.57 154.7,543.33 154.9,549.03 155.1,554.85 155.3,560.33 155.5,564.85 155.7,567.97 155.9,569.95 156.1,571.25 156.3,571.99 156.5,572.32 156.7,572.53 156.9,572.65 157.1,572.48 157.3,572.19 157.5,571.98 157.7,571.47 157.9,570.24 158.1,568.31 158.3,565.79 158.5,562.49 158.7,558.49 158.9,554.39 159.1,550.76 159.3,548.11 159.5,547.13 159.7,548.20 159.9,550.85 160.1,554.36 160.3,558.36 160.5,562.44 160.7,565.91 160.9,568.43 161.1,570.19 161.3,571.35 161.5,571.94 161.7,572.27 161.9,572.58 162.1,572.70 162.3,572.51 162.5,572.37 162.7,572.37 162.9,572.14 163.1,571.45 163.3,570.43 163.5,569.04 163.7,567.03 163.9,564.55 164.1,561.93 164.3,559.28 164.5,556.99 164.7,555.78 164.9,555.98 165.1,557.21 165.3,559.16 165.5,561.76 165.7,564.59 165.9,567.07 166.1,569.04 166.3,570.54 166.5,571.47 166.7,571.91 166.9,572.27 167.1,572.62 167.3,572.67 167.5,572.46 167.7,572.35 167.9,572.26 168.1,571.82 168.3,570.94 168.5,569.61 168.7,567.54 168.9,564.64 169.1,561.22 169.3,557.50 169.5,553.69 169.7,550.51 169.9,548.88 170.1,549.05 170.3,550.71 170.5,553.60 170.7,557.35 170.9,561.24 171.1,564.68 171.3,567.55 171.5,569.70 171.7,570.95 171.9,571.62 172.1,572.17 172.3,572.57 172.5,572.59 172.7,572.45 172.9,572.39 173.1,572.26 173.3,571.88 173.5,571.37 173.7,570.64 173.9,569.49 174.1,568.17 174.3,567.04 174.5,566.06 174.7,565.15 174.9,564.73 175.1,565.09 175.3,565.97 175.5,567.05 175.7,568.31 175.9,569.56 176.1,570.51 176.3,571.25 176.5,571.95 176.7,572.39 176.9,572.42 177.1,572.41 177.3,572.60 177.5,572.72 177.7,572.63 177.9,572.55 178.1,572.50 178.3,572.30 178.5,571.99 178.7,571.64 178.9,570.94 179.1,569.76 179.3,568.46 179.5,567.26 179.7,566.01 179.9,564.81 180.1,564.16 180.3,564.22 180.5,564.82 180.7,565.87 180.9,567.29 181.1,568.65 181.3,569.73 181.5,570.73 181.7,571.65 181.9,572.17 182.1,572.28 182.3,572.39 182.5,572.58 182.7,572.63 182.9,572.57 183.1,572.54 183.3,572.40 183.5,572.08 183.7,571.84 183.9,571.65 184.1,571.18 184.3,570.53 184.5,570.13 184.7,570.01 184.9,569.92 185.1,569.94 185.3,570.23 185.5,570.63 185.7,571.02 185.9,571.52 186.1,572.02 186.3,572.23 186.5,572.24 186.7,572.43 186.9,572.68 187.1,572.69 187.3,572.58 187.5,572.61 187.7,572.65 187.9,572.62" fill="none" stroke="#4a4a4a" stroke-width="0.8" stroke-linejoin="round"/>
<line x1="89.50" y1="577.00" x2="188.00" y2="577.00" stroke="#555" stroke-width="0.9" stroke-linecap="butt"/>
<line x1="105.00" y1="576.10" x2="105.00" y2="577.90" stroke="#555" stroke-width="0.8" stroke-linecap="butt"/>
<line x1="122.00" y1="576.10" x2="122.00" y2="577.90" stroke="#555" stroke-width="0.8" stroke-linecap="butt"/>
<line x1="139.00" y1="576.10" x2="139.00" y2="577.90" stroke="#555" stroke-width="0.8" stroke-linecap="butt"/>
<line x1="156.00" y1="576.10" x2="156.00" y2="577.90" stroke="#555" stroke-width="0.8" stroke-linecap="butt"/>
<line x1="173.00" y1="576.10" x2="173.00" y2="577.90" stroke="#555" stroke-width="0.8" stroke-linecap="butt"/>
<text x="122.00" y="587.10" font-size="7.3" font-weight="normal" text-anchor="middle" fill="#1a1a1a" >140</text>
<text x="155.90" y="587.10" font-size="7.3" font-weight="normal" text-anchor="middle" fill="#1a1a1a" >160</text>
<polyline points="206.5,572.41 206.7,572.45 206.9,571.84 207.1,571.14 207.3,570.51 207.5,569.45 207.7,568.53 207.9,568.56 208.1,568.78 208.3,568.39 208.5,568.38 208.7,569.52 208.9,570.73 209.1,571.22 209.3,571.65 209.5,572.26 209.7,572.47 209.9,572.59 210.1,573.16 210.3,573.41 210.5,572.81 210.7,572.51 210.9,573.13 211.1,573.48 211.3,572.96 211.5,572.57 211.7,572.59 211.9,572.24 212.1,571.60 212.3,571.05 212.5,569.97 212.7,568.09 212.9,566.65 213.1,566.16 213.3,565.53 213.5,564.60 213.7,564.66 213.9,565.91 214.1,567.22 214.3,568.42 214.5,569.85 214.7,570.91 214.9,571.32 215.1,572.00 215.3,573.03 215.5,573.22 215.7,572.61 215.9,572.58 216.1,573.17 216.3,573.25 216.5,572.87 216.7,572.77 216.9,572.60 217.1,572.07 217.3,571.89 217.5,571.99 217.7,571.33 217.9,570.25 218.1,570.12 218.3,570.70 218.5,570.76 218.7,570.55 218.9,570.95 219.1,571.56 219.3,571.86 219.5,572.36 219.7,572.96 219.9,572.83 220.1,572.39 220.3,572.80 220.5,573.49 220.7,573.23 220.9,572.59 221.1,572.59 221.3,572.70 221.5,572.28 221.7,571.81 221.9,571.34 222.1,570.28 222.3,569.15 222.5,568.93 222.7,568.97 222.9,568.34 223.1,567.94 223.3,568.74 223.5,569.87 223.7,570.49 223.9,571.08 224.1,571.83 224.3,572.12 224.5,572.28 224.7,572.97 224.9,573.41 225.1,572.87 225.3,572.43 225.5,572.89 225.7,573.19 225.9,572.57 226.1,571.82 226.3,571.22 226.5,570.09 226.7,568.58 226.9,567.26 227.1,565.63 227.3,563.46 227.5,562.14 227.7,562.42 227.9,563.14 228.1,563.68 228.3,564.94 228.5,567.00 228.7,568.79 228.9,570.13 229.1,571.43 229.3,572.18 229.5,572.15 229.7,572.38 229.9,573.19 230.1,573.32 230.3,572.51 230.5,572.02 230.7,572.00 230.9,571.34 231.1,569.94 231.3,568.45 231.5,566.63 231.7,564.40 231.9,562.84 232.1,562.29 232.3,561.79 232.5,561.48 232.7,562.62 232.9,564.94 233.1,566.90 233.3,568.31 233.5,569.84 233.7,571.11 233.9,571.75 234.1,572.41 234.3,573.14 234.5,573.03 234.7,572.40 234.9,572.52 235.1,572.95 235.3,572.31 235.5,570.78 235.7,569.19 235.9,567.01 236.1,563.58 236.3,559.49 236.5,555.13 236.7,550.35 236.9,546.31 237.1,544.71 237.3,545.33 237.5,547.01 237.7,549.96 237.9,554.61 238.1,559.64 238.3,563.70 238.5,566.97 238.7,569.54 238.9,570.90 239.1,571.60 239.3,572.59 239.5,573.28 239.7,572.81 239.9,572.09 240.1,572.08 240.3,571.81 240.5,570.32 240.7,568.17 240.9,565.67 241.1,562.31 241.3,558.57 241.5,555.49 241.7,552.95 241.9,550.80 242.1,550.41 242.3,552.55 242.5,555.78 242.7,558.85 242.9,562.14 243.1,565.61 243.3,568.29 243.5,570.12 243.7,571.66 243.9,572.50 244.1,572.35 244.3,572.38 244.5,573.10 244.7,573.27 244.9,572.35 245.1,571.37 245.3,570.48 245.5,568.45 245.7,564.82 245.9,559.93 246.1,553.38 246.3,545.25 246.5,537.27 246.7,530.82 246.9,525.95 247.1,523.47 247.3,525.08 247.5,530.58 247.7,537.85 247.9,545.55 248.1,553.24 248.3,559.82 248.5,564.57 248.7,568.17 248.9,570.90 249.1,572.02 249.3,571.95 249.5,572.23 249.7,572.80 249.9,572.34 250.1,570.77 250.3,568.77 250.5,565.70 250.7,560.68 250.9,554.04 251.1,546.01 251.3,536.44 251.5,526.87 251.7,519.95 251.9,516.64 252.1,516.47 252.3,519.87 252.5,527.12 252.7,536.46 252.9,545.70 253.1,554.07 253.3,561.00 253.5,565.64 253.7,568.49 253.9,570.85 254.1,572.47 254.3,572.50 254.5,571.80 254.7,571.44 254.9,570.54 255.1,567.87 255.3,563.48 255.5,557.23 255.7,548.33 255.9,537.27 256.1,525.67 256.3,514.42 256.5,504.58 256.7,498.88 256.9,499.34 257.1,505.03 257.3,514.04 257.5,525.36 257.7,537.54 257.9,548.39 258.1,557.02 258.3,563.72 258.5,568.11 258.7,570.09 258.9,571.17 259.1,572.47 259.3,573.09 259.5,572.44 259.7,571.53 259.9,570.70 260.1,568.89 260.3,565.69 260.5,561.42 260.7,555.64 260.9,548.28 261.1,541.05 261.3,535.40 261.5,531.22 261.7,528.99 261.9,530.28 262.1,535.15 262.3,541.68 262.5,548.59 262.7,555.47 262.9,561.32 263.1,565.44 263.3,568.58 263.5,571.14 263.7,572.25 263.9,572.07 264.1,572.10 264.3,572.52 264.5,571.98 264.7,570.22 264.9,567.79 265.1,564.15 265.3,558.57 265.5,551.60 265.7,543.72 265.9,534.89 266.1,526.54 266.3,521.33 266.5,520.13 266.7,522.02 266.9,526.79 267.1,534.45 267.3,543.38 267.5,551.64 267.7,558.76 267.9,564.44 268.1,567.93 268.3,569.80 268.5,571.49 268.7,572.86 268.9,572.90 269.1,572.22 269.3,571.99 269.5,571.64 269.7,570.12 269.9,567.60 270.1,564.10 270.3,558.90 270.5,552.38 270.7,545.90 270.9,539.75 271.1,534.00 271.3,530.43 271.5,530.75 271.7,534.24 271.9,539.38 272.1,545.77 272.3,552.76 272.5,558.89 272.7,563.73 272.9,567.75 273.1,570.46 273.3,571.37 273.5,571.72 273.7,572.63 273.9,573.24 274.1,572.78 274.3,572.10 274.5,571.70 274.7,570.78 274.9,569.16 275.1,567.33 275.3,564.85 275.5,561.44 275.7,558.40 275.9,556.82 276.1,555.94 276.3,555.37 276.5,556.25 276.7,558.84 276.9,561.84 277.1,564.56 277.3,567.25 277.5,569.38 277.7,570.49 277.9,571.45 278.1,572.70 278.3,573.18 278.5,572.62 278.7,572.38 278.9,572.80 279.1,572.69 279.3,571.78 279.5,570.73 279.7,569.27 279.9,566.93 280.1,564.40 280.3,562.05 280.5,559.20 280.7,556.26 280.9,554.99 281.1,555.68 281.3,557.03 281.5,558.77 281.7,561.48 281.9,564.56 282.1,567.06 282.3,569.22 282.5,571.11 282.7,571.91 282.9,571.92 283.1,572.43 283.3,573.29 283.5,573.21 283.7,572.46 283.9,572.15 284.1,571.91 284.3,570.82 284.5,569.11 284.7,566.90 284.9,563.53 285.1,559.40 285.3,555.90 285.5,553.09 285.7,550.42 285.9,548.91 286.1,549.94 286.3,552.82 286.5,556.15 286.7,559.79 286.9,563.60 287.1,566.61 287.3,568.78 287.5,570.83 287.7,572.32 287.9,572.46 288.1,572.21 288.3,572.74 288.5,573.30 288.7,572.95 288.9,572.36 289.1,572.05 289.3,571.39 289.5,570.29 289.7,569.32 289.9,568.03 290.1,565.92 290.3,564.14 290.5,563.74 290.7,563.87 290.9,563.76 291.1,564.32 291.3,565.98 291.5,567.73 291.7,569.13 291.9,570.58 292.1,571.65 292.3,571.86 292.5,572.12 292.7,573.02 292.9,573.44 293.1,572.86 293.3,572.50 293.5,572.86 293.7,572.93 293.9,572.38 294.1,571.84 294.3,571.05 294.5,569.58 294.7,568.16 294.9,567.19 295.1,565.75 295.3,563.82 295.5,562.96 295.7,563.59 295.9,564.48 296.1,565.30 296.3,566.73 296.5,568.42 296.7,569.68 296.9,570.88 297.1,572.17 297.3,572.61 297.5,572.27 297.7,572.49 297.9,573.29 298.1,573.37 298.3,572.78 298.5,572.62 298.7,572.74 298.9,572.43 299.1,572.03 299.3,571.74 299.5,570.84 299.7,569.53 299.9,569.01 300.1,569.10 300.3,568.61 300.5,567.95 300.7,568.33 300.9,569.39 301.1,570.11 301.3,570.76 301.5,571.59 301.7,571.98 301.9,572.05 302.1,572.67 302.3,573.39 302.5,573.12 302.7,572.51 302.9,572.78 303.1,573.34 303.3,573.17 303.5,572.80 303.7,572.78 303.9,572.54 304.1,572.09 304.3,572.07 304.5,572.00 304.7,571.07 304.9,570.17 305.1,570.36 305.3,570.82 305.5,570.60 305.7,570.45 305.9,571.01 306.1,571.57 306.3,571.88 306.5,572.47 306.7,572.92 306.9,572.60 307.1,572.41 307.3,573.08 307.5,573.55 307.7,573.04 307.9,572.60 308.1,572.90 308.3,573.08 308.5,572.81 308.7,572.68 308.9,572.48 309.1,571.72 309.3,571.19 309.5,571.37 309.7,571.21 309.9,570.27 310.1,569.86 310.3,570.49 310.5,571.03 310.7,571.13 310.9,571.49 311.1,572.00 311.3,572.12 311.5,572.41 311.7,573.14 311.9,573.27 312.1,572.63 312.3,572.55 312.5,573.23 312.7,573.39 312.9,572.85 313.1,572.59 313.3,572.55 313.5,572.07 313.7,571.51 313.9,571.05 314.1,569.89 314.3,568.14 314.5,567.15 314.7,567.00 314.9,566.50 315.1,565.87 315.3,566.30 315.5,567.55 315.7,568.65 315.9,569.72 316.1,570.94 316.3,571.58 316.5,571.73 316.7,572.40 316.9,573.29 317.1,573.20 317.3,572.58 317.5,572.72 317.7,573.25 317.9,573.20 318.1,572.95 318.3,573.00 318.5,572.83 318.7,572.47 318.9,572.69 319.1,573.04 319.3,572.51 319.5,571.79 319.7,572.06 319.9,572.65 320.1,572.52 320.3,572.24 320.5,572.46 320.7,572.64 320.9,572.63 321.1,573.00 321.3,573.35 321.5,572.90 321.7,572.48 321.9,573.01 322.1,573.56 322.3,573.16 322.5,572.70 322.7,572.91 322.9,573.10 323.1,572.95 323.3,573.03 323.5,573.08 323.7,572.52 323.9,572.16 324.1,572.64 324.3,572.90 324.5,572.23 324.7,571.79 324.9,572.23 325.1,572.61 325.3,572.52 325.5,572.62 325.7,572.82 325.9,572.61 326.1,572.63 326.3,573.27 326.5,573.46 326.7,572.79 326.9,572.54 327.1,573.14 327.3,573.40 327.5,572.99 327.7,572.80 327.9,572.84 328.1,572.54 328.3,572.34 328.5,572.50 328.7,572.12 328.9,571.09 329.1,570.72 329.3,571.22 329.5,571.28 329.7,570.80 329.9,570.88 330.1,571.48 330.3,571.83 330.5,572.15 330.7,572.72 330.9,572.80 331.1,572.41 331.3,572.66 331.5,573.43 331.7,573.38 331.9,572.71 332.1,572.67 332.3,573.08 332.5,573.00 332.7,572.66 332.9,572.48 333.1,571.89 333.3,570.89 333.5,570.39 333.7,570.10 333.9,568.97 334.1,567.61 334.3,567.41 334.5,568.00 334.7,568.30 334.9,568.66 335.1,569.57 335.3,570.43 335.5,571.02 335.7,571.96 335.9,572.82" fill="none" stroke="#4a4a4a" stroke-width="0.8" stroke-linejoin="round"/>
<line x1="206.50" y1="577.10" x2="336.00" y2="577.10" stroke="#555" stroke-width="0.9" stroke-linecap="butt"/>
<line x1="209.00" y1="576.20" x2="209.00" y2="578.00" stroke="#555" stroke-width="0.8" stroke-linecap="butt"/>
<line x1="224.00" y1="576.20" x2="224.00" y2="578.00" stroke="#555" stroke-width="0.8" stroke-linecap="butt"/>
<line x1="239.00" y1="576.20" x2="239.00" y2="578.00" stroke="#555" stroke-width="0.8" stroke-linecap="butt"/>
<line x1="254.00" y1="576.20" x2="254.00" y2="578.00" stroke="#555" stroke-width="0.8" stroke-linecap="butt"/>
<line x1="272.70" y1="576.20" x2="272.70" y2="578.00" stroke="#555" stroke-width="0.8" stroke-linecap="butt"/>
<line x1="288.00" y1="576.20" x2="288.00" y2="578.00" stroke="#555" stroke-width="0.8" stroke-linecap="butt"/>
<line x1="303.00" y1="576.20" x2="303.00" y2="578.00" stroke="#555" stroke-width="0.8" stroke-linecap="butt"/>
<line x1="318.00" y1="576.20" x2="318.00" y2="578.00" stroke="#555" stroke-width="0.8" stroke-linecap="butt"/>
<line x1="333.00" y1="576.20" x2="333.00" y2="578.00" stroke="#555" stroke-width="0.8" stroke-linecap="butt"/>
<text x="239.00" y="588.10" font-size="7.3" font-weight="normal" text-anchor="middle" fill="#1a1a1a" >140</text>
<text x="272.70" y="588.10" font-size="7.3" font-weight="normal" text-anchor="middle" fill="#1a1a1a" >160</text>
<polyline points="350.0,572.89 350.2,572.86 350.4,573.15 350.6,573.24 350.8,572.87 351.0,572.71 351.2,573.03 351.4,573.17 351.6,572.89 351.8,572.70 352.0,572.63 352.2,572.35 352.4,572.02 352.6,571.85 352.8,571.41 353.0,570.64 353.2,570.28 353.4,570.48 353.6,570.57 353.8,570.43 354.0,570.67 354.2,571.27 354.4,571.71 354.6,572.07 354.8,572.52 355.0,572.69 355.2,572.57 355.4,572.75 355.6,573.18 355.8,573.18 356.0,572.80 356.2,572.78 356.4,573.02 356.6,572.96 356.8,572.70 357.0,572.47 357.2,571.95 357.4,571.03 357.6,570.12 357.8,569.07 358.0,567.34 358.2,565.33 358.4,563.99 358.6,563.33 358.8,562.94 359.0,563.09 359.2,564.12 359.4,565.58 359.6,567.12 359.8,568.84 360.0,570.40 360.2,571.23 360.4,571.66 360.6,572.35 360.8,572.97 361.0,572.98 361.2,572.78 361.4,572.89 361.6,573.02 361.8,572.97 362.0,573.05 362.2,573.16 362.4,572.93 362.6,572.73 362.8,573.02 363.0,573.30 363.2,573.04 363.4,572.76 363.6,572.93 363.8,573.11 364.0,573.03 364.2,573.02 364.4,573.07 364.6,572.90 364.8,572.81 365.0,573.11 365.2,573.28 365.4,572.94 365.6,572.72 365.8,572.99 366.0,573.19 366.2,573.00 366.4,572.87 366.6,572.84 366.8,572.57 367.0,572.20 367.2,571.88 367.4,571.04 367.6,569.40 367.8,567.63 368.0,566.07 368.2,564.24 368.4,562.22 368.6,560.89 368.8,560.59 369.0,561.02 369.2,562.22 369.4,564.14 369.6,566.09 369.8,567.69 370.0,569.35 370.2,571.01 370.4,571.94 370.6,572.13 370.8,572.30 371.0,572.55 371.2,572.34 371.4,571.73 371.6,570.88 371.8,569.42 372.0,567.27 372.2,565.01 372.4,562.77 372.6,560.21 372.8,557.83 373.0,556.75 373.2,557.06 373.4,558.18 373.6,560.00 373.8,562.52 374.0,565.10 374.2,567.33 374.4,569.38 374.6,571.06 374.8,571.84 375.0,572.07 375.2,572.53 375.4,573.04 375.6,573.02 375.8,572.72 376.0,572.57 376.2,572.26 376.4,571.49 376.6,570.39 376.8,568.68 377.0,565.81 377.2,562.11 377.4,558.35 377.6,554.55 377.8,550.72 378.0,547.91 378.2,547.11 378.4,548.17 378.6,550.63 378.8,554.30 379.0,558.51 379.2,562.31 379.4,565.59 379.6,568.54 379.8,570.65 380.0,571.55 380.2,571.98 380.4,572.54 380.6,572.87 380.8,572.68 381.0,572.30 381.2,571.69 381.4,570.37 381.6,568.37 381.8,565.76 382.0,561.97 382.2,556.79 382.4,551.30 382.6,546.52 382.8,542.67 383.0,540.21 383.2,540.09 383.4,542.44 383.6,546.45 383.8,551.52 384.0,557.04 384.2,561.88 384.4,565.45 384.6,568.27 384.8,570.59 385.0,571.92 385.2,572.28 385.4,572.51 385.6,572.83 385.8,572.88 386.0,572.74 386.2,572.62 386.4,572.12 386.6,571.05 386.8,569.85 387.0,568.49 387.2,566.24 387.4,563.22 387.6,560.44 387.8,558.32 388.0,556.71 388.2,555.99 388.4,556.63 388.6,558.26 388.8,560.48 389.0,563.31 389.2,566.26 389.4,568.42 389.6,569.78 389.8,571.06 390.0,572.20 390.2,572.65 390.4,572.67 390.6,572.74 390.8,572.67 391.0,572.22 391.2,571.56 391.4,570.29 391.6,567.48 391.8,562.88 392.0,556.70 392.2,548.45 392.4,537.75 392.6,525.83 392.8,514.69 393.0,505.92 393.2,500.92 393.4,500.98 393.6,506.05 393.8,514.75 394.0,525.70 394.2,537.60 394.4,548.50 394.6,556.89 394.8,562.93 395.0,567.33 395.2,570.15 395.4,571.54 395.6,572.21 395.8,572.46 396.0,572.04 396.2,571.14 396.4,569.90 396.6,567.48 396.8,563.08 397.0,557.00 397.2,549.74 397.4,541.21 397.6,532.02 397.8,523.93 398.0,518.48 398.2,516.43 398.4,518.36 398.6,524.13 398.8,532.20 399.0,540.89 399.2,549.49 399.4,557.35 399.6,563.36 399.8,567.19 400.0,569.68 400.2,571.36 400.4,572.20 400.6,572.54 400.8,572.78 401.0,572.59 401.2,571.73 401.4,570.59 401.6,569.03 401.8,565.96 402.0,560.91 402.2,554.41 402.4,546.78 402.6,538.21 402.8,529.84 403.0,523.32 403.2,519.62 403.4,519.39 403.6,523.11 403.8,530.07 404.0,538.34 404.2,546.58 404.4,554.40 404.6,561.10 404.8,565.85 405.0,568.85 405.2,570.81 405.4,571.91 405.6,572.31 405.8,572.60 406.0,572.79 406.2,572.23 406.4,570.94 406.6,569.31 406.8,566.75 407.0,562.18 407.2,555.47 407.4,547.14 407.6,537.51 407.8,527.41 408.0,518.64 408.2,512.69 408.4,510.31 408.6,512.21 408.8,518.53 409.0,527.74 409.2,537.63 409.4,547.04 409.6,555.46 409.8,562.08 410.0,566.57 410.2,569.51 410.4,571.32 410.6,572.06 410.8,572.30 411.0,572.65 411.2,572.74 411.4,571.92 411.6,570.49 411.8,568.66 412.0,565.64 412.2,560.70 412.4,554.05 412.6,546.02 412.8,537.02 413.0,528.40 413.2,521.87 413.4,518.26 413.6,517.93 413.8,521.47 414.0,528.56 414.2,537.33 414.4,546.03 414.6,553.97 414.8,560.63 415.0,565.45 415.2,568.67 415.4,570.87 415.6,572.04 415.8,572.22 416.0,572.20 416.2,572.29 416.4,571.72 416.6,569.97 416.8,567.34 417.0,563.65 417.2,558.22 417.4,551.08 417.6,542.93 417.8,534.39 418.0,526.58 418.2,521.37 418.4,519.89 418.6,521.81 418.8,526.64 419.0,534.07 419.2,542.87 419.4,551.21 419.6,558.18 419.8,563.70 420.0,567.54 420.2,569.84 420.4,571.38 420.6,572.50 420.8,572.83 421.0,572.58 421.2,572.57 421.4,572.76 421.6,572.42 421.8,571.55 422.0,570.47 422.2,568.92 422.4,566.66 422.6,564.08 422.8,561.39 423.0,558.42 423.2,555.84 423.4,554.72 423.6,555.09 423.8,556.27 424.0,558.21 424.2,561.05 424.4,564.12 424.6,566.74 424.8,568.95 425.0,570.68 425.2,571.58 425.4,571.99 425.6,572.58 425.8,573.10 426.0,572.96 426.2,572.58 426.4,572.49 426.6,572.29 426.8,571.45 427.0,570.08 427.2,568.08 427.4,565.01 427.6,561.07 427.8,556.92 428.0,552.60 428.2,548.29 428.4,545.21 428.6,544.44 428.8,545.69 429.0,548.34 429.2,552.24 429.4,556.87 429.6,561.23 429.8,564.95 430.0,568.12 430.2,570.30 430.4,571.29 430.6,571.85 430.8,572.54 431.0,572.83 431.2,572.36 431.4,571.57 431.6,570.50 431.8,568.49 432.0,565.27 432.2,560.91 432.4,555.10 432.6,547.98 432.8,540.88 433.0,535.05 433.2,530.91 433.4,529.04 433.6,530.42 433.8,534.92 434.0,541.21 434.2,548.15 434.4,555.02 434.6,560.85 434.8,565.14 435.0,568.34 435.2,570.74 435.4,571.97 435.6,572.23 435.8,572.45 436.0,572.85 436.2,572.84 436.4,572.37 436.6,571.75 436.8,570.67 437.0,568.75 437.2,566.17 437.4,562.86 437.6,558.34 437.8,553.09 438.0,548.46 438.2,545.11 438.4,543.05 438.6,542.79 438.8,544.85 439.0,548.66 439.2,553.28 439.4,558.21 439.6,562.83 439.8,566.27 440.0,568.61 440.2,570.56 440.4,572.03 440.6,572.55 440.8,572.54 441.0,572.73 441.2,572.94 441.4,572.84 441.6,572.64 441.8,572.36 442.0,571.52 442.2,570.21 442.4,568.80 442.6,566.88 442.8,563.92 443.0,560.58 443.2,557.84 443.4,555.79 443.6,554.44 443.8,554.34 444.0,555.68 444.2,557.89 444.4,560.67 444.6,563.92 444.8,566.86 445.0,568.79 445.2,570.16 445.4,571.52 445.6,572.46 445.8,572.66 446.0,572.64 446.2,572.70 446.4,572.50 446.6,572.01 446.8,571.40 447.0,570.18 447.2,567.92 447.4,565.11 447.6,562.21 447.8,558.85 448.0,555.14 448.2,552.23 448.4,550.87 448.6,550.94 448.8,552.40 449.0,555.23 449.2,558.68 449.4,561.98 449.6,565.18 449.8,568.20 450.0,570.25 450.2,571.19 450.4,571.85 450.6,572.55 450.8,572.86 451.0,572.77 451.2,572.69 451.4,572.44 451.6,571.83 451.8,571.21 452.0,570.66 452.2,569.55 452.4,567.95 452.6,566.76 452.8,566.19 453.0,565.75 453.2,565.53 453.4,566.02 453.6,566.99 453.8,568.05 454.0,569.32 454.2,570.66 454.4,571.43 454.6,571.73 454.8,572.25 455.0,572.91 455.2,573.03 455.4,572.80 455.6,572.81 455.8,572.92 456.0,572.82 456.2,572.72 456.4,572.67 456.6,572.26 456.8,571.67 457.0,571.50 457.2,571.52 457.4,571.11 457.6,570.61 457.8,570.68 458.0,571.07 458.2,571.30 458.4,571.58 458.6,572.00 458.8,572.20 459.0,572.30 459.2,572.72 459.4,573.12 459.6,572.95 459.8,572.68 460.0,572.89 460.2,573.18 460.4,573.08" fill="none" stroke="#4a4a4a" stroke-width="0.8" stroke-linejoin="round"/>
<line x1="350.00" y1="577.00" x2="460.50" y2="577.00" stroke="#555" stroke-width="0.9" stroke-linecap="butt"/>
<line x1="357.50" y1="576.10" x2="357.50" y2="577.90" stroke="#555" stroke-width="0.8" stroke-linecap="butt"/>
<line x1="372.70" y1="576.10" x2="372.70" y2="577.90" stroke="#555" stroke-width="0.8" stroke-linecap="butt"/>
<line x1="387.90" y1="576.10" x2="387.90" y2="577.90" stroke="#555" stroke-width="0.8" stroke-linecap="butt"/>
<line x1="403.20" y1="576.10" x2="403.20" y2="577.90" stroke="#555" stroke-width="0.8" stroke-linecap="butt"/>
<line x1="418.60" y1="576.10" x2="418.60" y2="577.90" stroke="#555" stroke-width="0.8" stroke-linecap="butt"/>
<line x1="434.00" y1="576.10" x2="434.00" y2="577.90" stroke="#555" stroke-width="0.8" stroke-linecap="butt"/>
<line x1="449.20" y1="576.10" x2="449.20" y2="577.90" stroke="#555" stroke-width="0.8" stroke-linecap="butt"/>
<text x="387.90" y="588.30" font-size="7.3" font-weight="normal" text-anchor="middle" fill="#1a1a1a" >140</text>
<text x="418.60" y="588.30" font-size="7.3" font-weight="normal" text-anchor="middle" fill="#1a1a1a" >160</text>
<text x="151.80" y="404.10" font-size="11.4" font-weight="normal" fill="#000" textLength="53.40" lengthAdjust="spacingAndGlyphs" stroke="#000" stroke-width="0.2">mean size</text>
<text x="151.80" y="417.20" font-size="11.4" font-weight="normal" fill="#000" textLength="42.40" lengthAdjust="spacingAndGlyphs" stroke="#000" stroke-width="0.2">=145 bp</text>
<text x="151.80" y="430.50" font-size="11.4" font-weight="normal" fill="#000" textLength="43.60" lengthAdjust="spacingAndGlyphs" stroke="#000" stroke-width="0.2">(13 AA*)</text>
<text x="275.40" y="404.10" font-size="11.4" font-weight="normal" fill="#000" textLength="52.80" lengthAdjust="spacingAndGlyphs" stroke="#000" stroke-width="0.2">mean size</text>
<text x="275.40" y="417.20" font-size="11.4" font-weight="normal" fill="#000" textLength="42.20" lengthAdjust="spacingAndGlyphs" stroke="#000" stroke-width="0.2">=146 bp</text>
<text x="275.40" y="430.50" font-size="11.4" font-weight="normal" fill="#000" textLength="47.60" lengthAdjust="spacingAndGlyphs" stroke="#000" stroke-width="0.2">(13.3 AA)</text>
<text x="426.40" y="404.40" font-size="11.4" font-weight="normal" fill="#000" textLength="53.20" lengthAdjust="spacingAndGlyphs" stroke="#000" stroke-width="0.2">mean size</text>
<text x="426.40" y="417.50" font-size="11.4" font-weight="normal" fill="#000" textLength="42.60" lengthAdjust="spacingAndGlyphs" stroke="#000" stroke-width="0.2">=146 bp</text>
<text x="426.40" y="430.70" font-size="11.4" font-weight="normal" fill="#000" textLength="48.00" lengthAdjust="spacingAndGlyphs" stroke="#000" stroke-width="0.2">(13.3 AA)</text>
<text x="150.40" y="497.70" font-size="11.4" font-weight="normal" fill="#000" textLength="53.20" lengthAdjust="spacingAndGlyphs" stroke="#000" stroke-width="0.2">mean size</text>
<text x="150.40" y="511.00" font-size="11.4" font-weight="normal" fill="#000" textLength="42.40" lengthAdjust="spacingAndGlyphs" stroke="#000" stroke-width="0.2">=151 bp</text>
<text x="150.40" y="524.30" font-size="11.4" font-weight="normal" fill="#000" textLength="38.20" lengthAdjust="spacingAndGlyphs" stroke="#000" stroke-width="0.2">(15 AA)</text>
<text x="269.20" y="497.70" font-size="11.4" font-weight="normal" fill="#000" textLength="52.80" lengthAdjust="spacingAndGlyphs" stroke="#000" stroke-width="0.2">mean size</text>
<text x="269.20" y="511.00" font-size="11.4" font-weight="normal" fill="#000" textLength="41.60" lengthAdjust="spacingAndGlyphs" stroke="#000" stroke-width="0.2">=152 bp</text>
<text x="269.20" y="524.30" font-size="11.4" font-weight="normal" fill="#000" textLength="47.20" lengthAdjust="spacingAndGlyphs" stroke="#000" stroke-width="0.2">(15.3 AA)</text>
<text x="424.80" y="497.70" font-size="11.4" font-weight="normal" fill="#000" textLength="53.00" lengthAdjust="spacingAndGlyphs" stroke="#000" stroke-width="0.2">mean size</text>
<text x="424.80" y="511.00" font-size="11.4" font-weight="normal" fill="#000" textLength="41.40" lengthAdjust="spacingAndGlyphs" stroke="#000" stroke-width="0.2">=153 bp</text>
<text x="424.80" y="524.30" font-size="11.4" font-weight="normal" fill="#000" textLength="47.60" lengthAdjust="spacingAndGlyphs" stroke="#000" stroke-width="0.2">(15.6 AA)</text>
<path d="M482.8 386.4 H488.4 Q490.1 386.4 490.1 388.09999999999997 V477.3 Q490.1 479.0 488.4 479.0 H482.8" fill="none" stroke="#000" stroke-width="1.4"/>
<line x1="490.10" y1="433.10" x2="497.40" y2="433.10" stroke="#000" stroke-width="1.4" stroke-linecap="butt"/>
<path d="M482.8 495.2 H488.4 Q490.1 495.2 490.1 496.9 V585.9 Q490.1 587.6 488.4 587.6 H482.8" fill="none" stroke="#000" stroke-width="1.4"/>
<line x1="490.10" y1="541.40" x2="497.40" y2="541.40" stroke="#000" stroke-width="1.4" stroke-linecap="butt"/>
<text transform="translate(515.8 477.21) rotate(-90) scale(0.93 1)" font-size="18.75">I</text>
<text transform="translate(515.8 472.43) rotate(-90) scale(0.93 1)" font-size="18.75">g</text>
<text transform="translate(515.8 460.93) rotate(-90) scale(0.93 1)" font-size="18.75">D</text>
<text transform="translate(515.8 440.99) rotate(-90) scale(0.93 1)" font-size="18.75">C</text>
<text transform="translate(515.8 427.73) rotate(-90) scale(0.93 1)" font-size="18.75">D</text>
<text transform="translate(515.8 414.38) rotate(-90) scale(0.93 1)" font-size="18.75">2</text>
<text transform="translate(515.8 403.59) rotate(-90) scale(0.93 1)" font-size="18.75">7</text>
<line x1="503.95" y1="444.85" x2="509.65" y2="444.85" stroke="#000" stroke-width="1.25" stroke-linecap="butt"/>
<line x1="506.80" y1="442.00" x2="506.80" y2="447.70" stroke="#000" stroke-width="1.25" stroke-linecap="butt"/>
<line x1="504.05" y1="390.40" x2="509.75" y2="390.40" stroke="#000" stroke-width="1.25" stroke-linecap="butt"/>
<line x1="506.90" y1="387.55" x2="506.90" y2="393.25" stroke="#000" stroke-width="1.25" stroke-linecap="butt"/>
<text transform="translate(516.4 568.2) rotate(-90)" font-size="18.5" textLength="47.0" lengthAdjust="spacing">Naive</text>
</svg>
</body>
</html>
